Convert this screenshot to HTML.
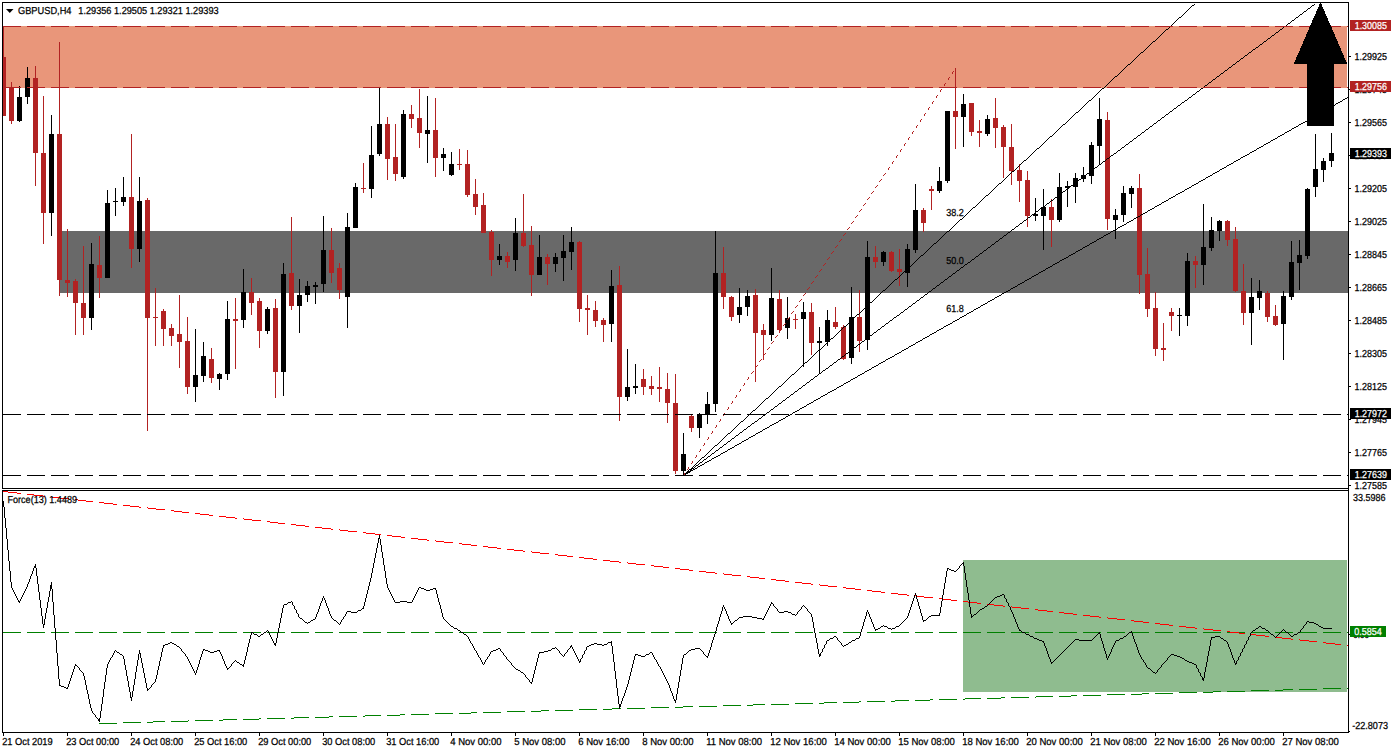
<!DOCTYPE html><html><head><meta charset="utf-8"><title>GBPUSD H4</title><style>html,body{margin:0;padding:0;background:#fff;}svg{display:block}text{font-family:"Liberation Sans",sans-serif;}</style></head><body>
<svg width="1393" height="753" viewBox="0 0 1393 753">
<rect x="0" y="0" width="1393" height="753" fill="#fff"/>
<g shape-rendering="crispEdges">
<rect x="3" y="26" width="1344" height="62" fill="#E9967A"/>
<rect x="60" y="231" width="1288" height="62" fill="#696969"/>
<rect x="963" y="560" width="384" height="132" fill="#8FBC8F"/>
<line x1="3" y1="632.5" x2="1348" y2="632.5" stroke="#008000" stroke-width="1" stroke-dasharray="18 6"/>
</g>
<clipPath id="cc"><rect x="3" y="3" width="1345" height="485"/></clipPath><g shape-rendering="crispEdges" clip-path="url(#cc)">
<rect x="3" y="27" width="1" height="89" fill="#B22222"/>
<rect x="1" y="57" width="5" height="59" fill="#B22222"/>
<rect x="11" y="82" width="1" height="42" fill="#B22222"/>
<rect x="9" y="87" width="5" height="34" fill="#B22222"/>
<rect x="19" y="86" width="1" height="36" fill="#000"/>
<rect x="17" y="97" width="5" height="24" fill="#000"/>
<rect x="27" y="67" width="1" height="37" fill="#000"/>
<rect x="25" y="78" width="5" height="19" fill="#000"/>
<rect x="35" y="66" width="1" height="120" fill="#B22222"/>
<rect x="33" y="78" width="5" height="75" fill="#B22222"/>
<rect x="43" y="96" width="1" height="148" fill="#B22222"/>
<rect x="41" y="153" width="5" height="60" fill="#B22222"/>
<rect x="51" y="115" width="1" height="121" fill="#000"/>
<rect x="49" y="134" width="5" height="79" fill="#000"/>
<rect x="59" y="42" width="1" height="254" fill="#B22222"/>
<rect x="57" y="134" width="5" height="146" fill="#B22222"/>
<rect x="67" y="229" width="1" height="68" fill="#B22222"/>
<rect x="65" y="280" width="5" height="3" fill="#B22222"/>
<rect x="75" y="279" width="1" height="56" fill="#B22222"/>
<rect x="73" y="281" width="5" height="22" fill="#B22222"/>
<rect x="83" y="246" width="1" height="89" fill="#B22222"/>
<rect x="81" y="303" width="5" height="15" fill="#B22222"/>
<rect x="91" y="243" width="1" height="87" fill="#000"/>
<rect x="89" y="264" width="5" height="54" fill="#000"/>
<rect x="99" y="236" width="1" height="62" fill="#B22222"/>
<rect x="97" y="265" width="5" height="13" fill="#B22222"/>
<rect x="107" y="190" width="1" height="88" fill="#000"/>
<rect x="105" y="203" width="5" height="75" fill="#000"/>
<rect x="115" y="188" width="1" height="28" fill="#000"/>
<rect x="113" y="201" width="5" height="1" fill="#000"/>
<rect x="123" y="177" width="1" height="29" fill="#000"/>
<rect x="121" y="197" width="5" height="5" fill="#000"/>
<rect x="131" y="134" width="1" height="134" fill="#B22222"/>
<rect x="129" y="197" width="5" height="52" fill="#B22222"/>
<rect x="139" y="177" width="1" height="85" fill="#000"/>
<rect x="137" y="201" width="5" height="48" fill="#000"/>
<rect x="147" y="198" width="1" height="233" fill="#B22222"/>
<rect x="145" y="200" width="5" height="118" fill="#B22222"/>
<rect x="155" y="288" width="1" height="58" fill="#B22222"/>
<rect x="153" y="317" width="5" height="1" fill="#B22222"/>
<rect x="163" y="309" width="1" height="37" fill="#B22222"/>
<rect x="161" y="311" width="5" height="18" fill="#B22222"/>
<rect x="171" y="324" width="1" height="22" fill="#B22222"/>
<rect x="169" y="328" width="5" height="8" fill="#B22222"/>
<rect x="179" y="295" width="1" height="73" fill="#B22222"/>
<rect x="177" y="334" width="5" height="8" fill="#B22222"/>
<rect x="187" y="317" width="1" height="77" fill="#B22222"/>
<rect x="185" y="341" width="5" height="46" fill="#B22222"/>
<rect x="195" y="329" width="1" height="73" fill="#000"/>
<rect x="193" y="375" width="5" height="12" fill="#000"/>
<rect x="203" y="342" width="1" height="40" fill="#000"/>
<rect x="201" y="356" width="5" height="20" fill="#000"/>
<rect x="211" y="348" width="1" height="35" fill="#B22222"/>
<rect x="209" y="359" width="5" height="19" fill="#B22222"/>
<rect x="219" y="373" width="1" height="17" fill="#000"/>
<rect x="217" y="374" width="5" height="5" fill="#000"/>
<rect x="227" y="301" width="1" height="79" fill="#000"/>
<rect x="225" y="319" width="5" height="55" fill="#000"/>
<rect x="235" y="298" width="1" height="71" fill="#B22222"/>
<rect x="233" y="319" width="5" height="2" fill="#B22222"/>
<rect x="243" y="269" width="1" height="59" fill="#000"/>
<rect x="241" y="292" width="5" height="28" fill="#000"/>
<rect x="251" y="278" width="1" height="37" fill="#B22222"/>
<rect x="249" y="292" width="5" height="11" fill="#B22222"/>
<rect x="259" y="298" width="1" height="50" fill="#B22222"/>
<rect x="257" y="301" width="5" height="30" fill="#B22222"/>
<rect x="267" y="307" width="1" height="27" fill="#000"/>
<rect x="265" y="309" width="5" height="22" fill="#000"/>
<rect x="275" y="299" width="1" height="99" fill="#B22222"/>
<rect x="273" y="308" width="5" height="64" fill="#B22222"/>
<rect x="283" y="263" width="1" height="133" fill="#000"/>
<rect x="281" y="274" width="5" height="98" fill="#000"/>
<rect x="291" y="217" width="1" height="93" fill="#B22222"/>
<rect x="289" y="273" width="5" height="33" fill="#B22222"/>
<rect x="299" y="279" width="1" height="54" fill="#000"/>
<rect x="297" y="295" width="5" height="11" fill="#000"/>
<rect x="307" y="281" width="1" height="21" fill="#000"/>
<rect x="305" y="286" width="5" height="9" fill="#000"/>
<rect x="315" y="282" width="1" height="22" fill="#000"/>
<rect x="313" y="285" width="5" height="2" fill="#000"/>
<rect x="323" y="216" width="1" height="76" fill="#000"/>
<rect x="321" y="250" width="5" height="34" fill="#000"/>
<rect x="331" y="228" width="1" height="55" fill="#B22222"/>
<rect x="329" y="250" width="5" height="23" fill="#B22222"/>
<rect x="339" y="263" width="1" height="36" fill="#B22222"/>
<rect x="337" y="268" width="5" height="22" fill="#B22222"/>
<rect x="347" y="213" width="1" height="115" fill="#000"/>
<rect x="345" y="227" width="5" height="70" fill="#000"/>
<rect x="355" y="183" width="1" height="45" fill="#000"/>
<rect x="353" y="187" width="5" height="41" fill="#000"/>
<rect x="363" y="163" width="1" height="30" fill="#B22222"/>
<rect x="361" y="188" width="5" height="1" fill="#B22222"/>
<rect x="371" y="126" width="1" height="72" fill="#000"/>
<rect x="369" y="155" width="5" height="34" fill="#000"/>
<rect x="379" y="88" width="1" height="68" fill="#000"/>
<rect x="377" y="124" width="5" height="30" fill="#000"/>
<rect x="387" y="117" width="1" height="63" fill="#B22222"/>
<rect x="385" y="124" width="5" height="35" fill="#B22222"/>
<rect x="395" y="124" width="1" height="57" fill="#B22222"/>
<rect x="393" y="157" width="5" height="17" fill="#B22222"/>
<rect x="403" y="110" width="1" height="69" fill="#000"/>
<rect x="401" y="114" width="5" height="63" fill="#000"/>
<rect x="411" y="105" width="1" height="23" fill="#B22222"/>
<rect x="409" y="114" width="5" height="5" fill="#B22222"/>
<rect x="419" y="89" width="1" height="59" fill="#B22222"/>
<rect x="417" y="118" width="5" height="15" fill="#B22222"/>
<rect x="427" y="96" width="1" height="67" fill="#000"/>
<rect x="425" y="130" width="5" height="4" fill="#000"/>
<rect x="435" y="98" width="1" height="79" fill="#B22222"/>
<rect x="433" y="130" width="5" height="28" fill="#B22222"/>
<rect x="443" y="148" width="1" height="23" fill="#000"/>
<rect x="441" y="154" width="5" height="4" fill="#000"/>
<rect x="451" y="152" width="1" height="24" fill="#000"/>
<rect x="449" y="164" width="5" height="11" fill="#000"/>
<rect x="459" y="149" width="1" height="21" fill="#B22222"/>
<rect x="457" y="164" width="5" height="1" fill="#B22222"/>
<rect x="467" y="150" width="1" height="47" fill="#B22222"/>
<rect x="465" y="164" width="5" height="31" fill="#B22222"/>
<rect x="475" y="179" width="1" height="36" fill="#B22222"/>
<rect x="473" y="194" width="5" height="13" fill="#B22222"/>
<rect x="483" y="193" width="1" height="40" fill="#B22222"/>
<rect x="481" y="205" width="5" height="28" fill="#B22222"/>
<rect x="491" y="230" width="1" height="46" fill="#B22222"/>
<rect x="489" y="232" width="5" height="28" fill="#B22222"/>
<rect x="499" y="244" width="1" height="21" fill="#000"/>
<rect x="497" y="256" width="5" height="4" fill="#000"/>
<rect x="507" y="252" width="1" height="16" fill="#B22222"/>
<rect x="505" y="256" width="5" height="6" fill="#B22222"/>
<rect x="515" y="218" width="1" height="53" fill="#000"/>
<rect x="513" y="233" width="5" height="27" fill="#000"/>
<rect x="523" y="194" width="1" height="53" fill="#B22222"/>
<rect x="521" y="233" width="5" height="13" fill="#B22222"/>
<rect x="531" y="226" width="1" height="70" fill="#B22222"/>
<rect x="529" y="245" width="5" height="30" fill="#B22222"/>
<rect x="539" y="235" width="1" height="40" fill="#000"/>
<rect x="537" y="257" width="5" height="18" fill="#000"/>
<rect x="547" y="254" width="1" height="31" fill="#B22222"/>
<rect x="545" y="257" width="5" height="7" fill="#B22222"/>
<rect x="555" y="253" width="1" height="19" fill="#000"/>
<rect x="553" y="257" width="5" height="7" fill="#000"/>
<rect x="563" y="235" width="1" height="46" fill="#000"/>
<rect x="561" y="251" width="5" height="7" fill="#000"/>
<rect x="571" y="227" width="1" height="43" fill="#000"/>
<rect x="569" y="242" width="5" height="10" fill="#000"/>
<rect x="579" y="241" width="1" height="81" fill="#B22222"/>
<rect x="577" y="242" width="5" height="67" fill="#B22222"/>
<rect x="587" y="295" width="1" height="40" fill="#B22222"/>
<rect x="585" y="308" width="5" height="2" fill="#B22222"/>
<rect x="595" y="301" width="1" height="26" fill="#B22222"/>
<rect x="593" y="310" width="5" height="11" fill="#B22222"/>
<rect x="603" y="318" width="1" height="24" fill="#B22222"/>
<rect x="601" y="320" width="5" height="5" fill="#B22222"/>
<rect x="611" y="270" width="1" height="72" fill="#000"/>
<rect x="609" y="286" width="5" height="38" fill="#000"/>
<rect x="619" y="266" width="1" height="155" fill="#B22222"/>
<rect x="617" y="285" width="5" height="112" fill="#B22222"/>
<rect x="627" y="349" width="1" height="52" fill="#000"/>
<rect x="625" y="387" width="5" height="10" fill="#000"/>
<rect x="635" y="364" width="1" height="30" fill="#000"/>
<rect x="633" y="386" width="5" height="2" fill="#000"/>
<rect x="643" y="369" width="1" height="26" fill="#B22222"/>
<rect x="641" y="379" width="5" height="8" fill="#B22222"/>
<rect x="651" y="376" width="1" height="19" fill="#B22222"/>
<rect x="649" y="386" width="5" height="3" fill="#B22222"/>
<rect x="659" y="367" width="1" height="35" fill="#B22222"/>
<rect x="657" y="387" width="5" height="2" fill="#B22222"/>
<rect x="667" y="373" width="1" height="50" fill="#B22222"/>
<rect x="665" y="389" width="5" height="14" fill="#B22222"/>
<rect x="675" y="374" width="1" height="100" fill="#B22222"/>
<rect x="673" y="403" width="5" height="68" fill="#B22222"/>
<rect x="683" y="433" width="1" height="42" fill="#000"/>
<rect x="681" y="454" width="5" height="17" fill="#000"/>
<rect x="691" y="414" width="1" height="18" fill="#B22222"/>
<rect x="689" y="416" width="5" height="12" fill="#B22222"/>
<rect x="699" y="413" width="1" height="25" fill="#000"/>
<rect x="697" y="414" width="5" height="14" fill="#000"/>
<rect x="707" y="392" width="1" height="32" fill="#000"/>
<rect x="705" y="404" width="5" height="10" fill="#000"/>
<rect x="715" y="231" width="1" height="181" fill="#000"/>
<rect x="713" y="273" width="5" height="131" fill="#000"/>
<rect x="723" y="247" width="1" height="62" fill="#B22222"/>
<rect x="721" y="273" width="5" height="24" fill="#B22222"/>
<rect x="731" y="296" width="1" height="25" fill="#B22222"/>
<rect x="729" y="297" width="5" height="20" fill="#B22222"/>
<rect x="739" y="288" width="1" height="35" fill="#000"/>
<rect x="737" y="307" width="5" height="8" fill="#000"/>
<rect x="747" y="290" width="1" height="26" fill="#000"/>
<rect x="745" y="296" width="5" height="11" fill="#000"/>
<rect x="755" y="289" width="1" height="93" fill="#B22222"/>
<rect x="753" y="295" width="5" height="38" fill="#B22222"/>
<rect x="763" y="324" width="1" height="36" fill="#B22222"/>
<rect x="761" y="330" width="5" height="5" fill="#B22222"/>
<rect x="771" y="268" width="1" height="73" fill="#000"/>
<rect x="769" y="298" width="5" height="37" fill="#000"/>
<rect x="779" y="290" width="1" height="43" fill="#B22222"/>
<rect x="777" y="299" width="5" height="31" fill="#B22222"/>
<rect x="787" y="297" width="1" height="42" fill="#000"/>
<rect x="785" y="318" width="5" height="10" fill="#000"/>
<rect x="795" y="314" width="1" height="15" fill="#B22222"/>
<rect x="793" y="319" width="5" height="1" fill="#B22222"/>
<rect x="803" y="302" width="1" height="65" fill="#000"/>
<rect x="801" y="312" width="5" height="7" fill="#000"/>
<rect x="811" y="303" width="1" height="52" fill="#B22222"/>
<rect x="809" y="312" width="5" height="31" fill="#B22222"/>
<rect x="819" y="327" width="1" height="47" fill="#000"/>
<rect x="817" y="341" width="5" height="2" fill="#000"/>
<rect x="827" y="310" width="1" height="36" fill="#000"/>
<rect x="825" y="320" width="5" height="22" fill="#000"/>
<rect x="835" y="307" width="1" height="22" fill="#B22222"/>
<rect x="833" y="322" width="5" height="5" fill="#B22222"/>
<rect x="843" y="325" width="1" height="35" fill="#B22222"/>
<rect x="841" y="327" width="5" height="32" fill="#B22222"/>
<rect x="851" y="287" width="1" height="77" fill="#000"/>
<rect x="849" y="317" width="5" height="41" fill="#000"/>
<rect x="859" y="290" width="1" height="62" fill="#B22222"/>
<rect x="857" y="317" width="5" height="24" fill="#B22222"/>
<rect x="867" y="241" width="1" height="109" fill="#000"/>
<rect x="865" y="257" width="5" height="83" fill="#000"/>
<rect x="875" y="246" width="1" height="22" fill="#B22222"/>
<rect x="873" y="257" width="5" height="5" fill="#B22222"/>
<rect x="883" y="251" width="1" height="15" fill="#000"/>
<rect x="881" y="252" width="5" height="10" fill="#000"/>
<rect x="891" y="251" width="1" height="21" fill="#B22222"/>
<rect x="889" y="252" width="5" height="19" fill="#B22222"/>
<rect x="899" y="249" width="1" height="37" fill="#B22222"/>
<rect x="897" y="269" width="5" height="3" fill="#B22222"/>
<rect x="907" y="244" width="1" height="43" fill="#000"/>
<rect x="905" y="249" width="5" height="24" fill="#000"/>
<rect x="915" y="184" width="1" height="69" fill="#000"/>
<rect x="913" y="210" width="5" height="40" fill="#000"/>
<rect x="923" y="208" width="1" height="24" fill="#B22222"/>
<rect x="921" y="210" width="5" height="13" fill="#B22222"/>
<rect x="931" y="186" width="1" height="24" fill="#B22222"/>
<rect x="929" y="189" width="5" height="2" fill="#B22222"/>
<rect x="939" y="167" width="1" height="26" fill="#000"/>
<rect x="937" y="181" width="5" height="10" fill="#000"/>
<rect x="947" y="111" width="1" height="72" fill="#000"/>
<rect x="945" y="111" width="5" height="70" fill="#000"/>
<rect x="955" y="68" width="1" height="81" fill="#B22222"/>
<rect x="953" y="111" width="5" height="6" fill="#B22222"/>
<rect x="963" y="94" width="1" height="53" fill="#000"/>
<rect x="961" y="104" width="5" height="13" fill="#000"/>
<rect x="971" y="103" width="1" height="33" fill="#B22222"/>
<rect x="969" y="103" width="5" height="29" fill="#B22222"/>
<rect x="979" y="120" width="1" height="27" fill="#B22222"/>
<rect x="977" y="131" width="5" height="2" fill="#B22222"/>
<rect x="987" y="115" width="1" height="21" fill="#000"/>
<rect x="985" y="119" width="5" height="15" fill="#000"/>
<rect x="995" y="98" width="1" height="50" fill="#B22222"/>
<rect x="993" y="118" width="5" height="10" fill="#B22222"/>
<rect x="1003" y="125" width="1" height="53" fill="#B22222"/>
<rect x="1001" y="127" width="5" height="20" fill="#B22222"/>
<rect x="1011" y="124" width="1" height="61" fill="#B22222"/>
<rect x="1009" y="147" width="5" height="24" fill="#B22222"/>
<rect x="1019" y="164" width="1" height="38" fill="#B22222"/>
<rect x="1017" y="170" width="5" height="11" fill="#B22222"/>
<rect x="1027" y="171" width="1" height="56" fill="#B22222"/>
<rect x="1025" y="180" width="5" height="36" fill="#B22222"/>
<rect x="1035" y="198" width="1" height="23" fill="#000"/>
<rect x="1033" y="214" width="5" height="2" fill="#000"/>
<rect x="1043" y="189" width="1" height="61" fill="#000"/>
<rect x="1041" y="207" width="5" height="9" fill="#000"/>
<rect x="1051" y="199" width="1" height="48" fill="#B22222"/>
<rect x="1049" y="207" width="5" height="13" fill="#B22222"/>
<rect x="1059" y="173" width="1" height="49" fill="#000"/>
<rect x="1057" y="187" width="5" height="33" fill="#000"/>
<rect x="1067" y="181" width="1" height="26" fill="#000"/>
<rect x="1065" y="186" width="5" height="2" fill="#000"/>
<rect x="1075" y="173" width="1" height="30" fill="#000"/>
<rect x="1073" y="178" width="5" height="9" fill="#000"/>
<rect x="1083" y="167" width="1" height="15" fill="#000"/>
<rect x="1081" y="175" width="5" height="4" fill="#000"/>
<rect x="1091" y="142" width="1" height="42" fill="#000"/>
<rect x="1089" y="145" width="5" height="31" fill="#000"/>
<rect x="1099" y="98" width="1" height="66" fill="#000"/>
<rect x="1097" y="119" width="5" height="27" fill="#000"/>
<rect x="1107" y="112" width="1" height="118" fill="#B22222"/>
<rect x="1105" y="120" width="5" height="99" fill="#B22222"/>
<rect x="1115" y="209" width="1" height="30" fill="#000"/>
<rect x="1113" y="215" width="5" height="5" fill="#000"/>
<rect x="1123" y="186" width="1" height="36" fill="#000"/>
<rect x="1121" y="193" width="5" height="22" fill="#000"/>
<rect x="1131" y="186" width="1" height="22" fill="#000"/>
<rect x="1129" y="188" width="5" height="6" fill="#000"/>
<rect x="1139" y="174" width="1" height="120" fill="#B22222"/>
<rect x="1137" y="188" width="5" height="87" fill="#B22222"/>
<rect x="1147" y="248" width="1" height="69" fill="#B22222"/>
<rect x="1145" y="274" width="5" height="35" fill="#B22222"/>
<rect x="1155" y="292" width="1" height="64" fill="#B22222"/>
<rect x="1153" y="308" width="5" height="41" fill="#B22222"/>
<rect x="1163" y="323" width="1" height="38" fill="#B22222"/>
<rect x="1161" y="348" width="5" height="2" fill="#B22222"/>
<rect x="1171" y="308" width="1" height="23" fill="#B22222"/>
<rect x="1169" y="312" width="5" height="4" fill="#B22222"/>
<rect x="1179" y="308" width="1" height="28" fill="#000"/>
<rect x="1177" y="315" width="5" height="1" fill="#000"/>
<rect x="1187" y="253" width="1" height="73" fill="#000"/>
<rect x="1185" y="261" width="5" height="55" fill="#000"/>
<rect x="1195" y="256" width="1" height="32" fill="#B22222"/>
<rect x="1193" y="261" width="5" height="4" fill="#B22222"/>
<rect x="1203" y="204" width="1" height="81" fill="#000"/>
<rect x="1201" y="247" width="5" height="18" fill="#000"/>
<rect x="1211" y="217" width="1" height="34" fill="#000"/>
<rect x="1209" y="230" width="5" height="18" fill="#000"/>
<rect x="1219" y="220" width="1" height="21" fill="#000"/>
<rect x="1217" y="221" width="5" height="10" fill="#000"/>
<rect x="1227" y="220" width="1" height="26" fill="#B22222"/>
<rect x="1225" y="221" width="5" height="19" fill="#B22222"/>
<rect x="1235" y="227" width="1" height="65" fill="#B22222"/>
<rect x="1233" y="239" width="5" height="52" fill="#B22222"/>
<rect x="1243" y="264" width="1" height="61" fill="#B22222"/>
<rect x="1241" y="291" width="5" height="22" fill="#B22222"/>
<rect x="1251" y="278" width="1" height="67" fill="#000"/>
<rect x="1249" y="297" width="5" height="16" fill="#000"/>
<rect x="1259" y="280" width="1" height="30" fill="#000"/>
<rect x="1257" y="291" width="5" height="7" fill="#000"/>
<rect x="1267" y="291" width="1" height="31" fill="#B22222"/>
<rect x="1265" y="293" width="5" height="24" fill="#B22222"/>
<rect x="1275" y="305" width="1" height="21" fill="#B22222"/>
<rect x="1273" y="316" width="5" height="9" fill="#B22222"/>
<rect x="1283" y="291" width="1" height="69" fill="#000"/>
<rect x="1281" y="296" width="5" height="28" fill="#000"/>
<rect x="1291" y="241" width="1" height="59" fill="#000"/>
<rect x="1289" y="262" width="5" height="35" fill="#000"/>
<rect x="1299" y="240" width="1" height="50" fill="#000"/>
<rect x="1297" y="255" width="5" height="8" fill="#000"/>
<rect x="1307" y="188" width="1" height="71" fill="#000"/>
<rect x="1305" y="189" width="5" height="67" fill="#000"/>
<rect x="1315" y="134" width="1" height="63" fill="#000"/>
<rect x="1313" y="169" width="5" height="18" fill="#000"/>
<rect x="1323" y="158" width="1" height="24" fill="#000"/>
<rect x="1321" y="161" width="5" height="9" fill="#000"/>
<rect x="1331" y="133" width="1" height="34" fill="#000"/>
<rect x="1329" y="153" width="5" height="8" fill="#000"/>
</g>
<path d="M1194 4h1v1h-1zM1192 5h2v1h-2zM1191 6h1v1h-1zM1190 7h1v1h-1zM1189 8h1v1h-1zM1188 9h1v1h-1zM1187 10h1v1h-1zM1186 11h1v1h-1zM1185 12h1v1h-1zM1184 13h1v1h-1zM1183 14h1v1h-1zM1182 15h1v1h-1zM1181 16h1v1h-1zM1179 17h2v1h-2zM1178 18h1v1h-1zM1177 19h1v1h-1zM1176 20h1v1h-1zM1175 21h1v1h-1zM1174 22h1v1h-1zM1173 23h1v1h-1zM1172 24h1v1h-1zM1171 25h1v1h-1zM1170 26h1v1h-1zM1169 27h1v1h-1zM1168 28h1v1h-1zM1166 29h2v1h-2zM1165 30h1v1h-1zM1164 31h1v1h-1zM1163 32h1v1h-1zM1162 33h1v1h-1zM1161 34h1v1h-1zM1160 35h1v1h-1zM1159 36h1v1h-1zM1158 37h1v1h-1zM1157 38h1v1h-1zM1156 39h1v1h-1zM1155 40h1v1h-1zM1153 41h2v1h-2zM1152 42h1v1h-1zM1151 43h1v1h-1zM1150 44h1v1h-1zM1149 45h1v1h-1zM1148 46h1v1h-1zM1147 47h1v1h-1zM1146 48h1v1h-1zM1145 49h1v1h-1zM1144 50h1v1h-1zM1143 51h1v1h-1zM1141 52h2v1h-2zM1140 53h1v1h-1zM1139 54h1v1h-1zM1138 55h1v1h-1zM1137 56h1v1h-1zM1136 57h1v1h-1zM1135 58h1v1h-1zM1134 59h1v1h-1zM1133 60h1v1h-1zM1132 61h1v1h-1zM1131 62h1v1h-1zM1130 63h1v1h-1zM1128 64h2v1h-2zM1127 65h1v1h-1zM1126 66h1v1h-1zM1125 67h1v1h-1zM1124 68h1v1h-1zM1123 69h1v1h-1zM1122 70h1v1h-1zM1121 71h1v1h-1zM1120 72h1v1h-1zM1119 73h1v1h-1zM1118 74h1v1h-1zM1117 75h1v1h-1zM1115 76h2v1h-2zM1114 77h1v1h-1zM1113 78h1v1h-1zM1112 79h1v1h-1zM1111 80h1v1h-1zM1110 81h1v1h-1zM1109 82h1v1h-1zM1108 83h1v1h-1zM1107 84h1v1h-1zM1106 85h1v1h-1zM1105 86h1v1h-1zM1104 87h1v1h-1zM1102 88h2v1h-2zM1101 89h1v1h-1zM1100 90h1v1h-1zM1099 91h1v1h-1zM1098 92h1v1h-1zM1097 93h1v1h-1zM1096 94h1v1h-1zM1095 95h1v1h-1zM1094 96h1v1h-1zM1093 97h1v1h-1zM1092 98h1v1h-1zM1091 99h1v1h-1zM1089 100h2v1h-2zM1088 101h1v1h-1zM1087 102h1v1h-1zM1086 103h1v1h-1zM1085 104h1v1h-1zM1084 105h1v1h-1zM1083 106h1v1h-1zM1082 107h1v1h-1zM1081 108h1v1h-1zM1080 109h1v1h-1zM1079 110h1v1h-1zM1078 111h1v1h-1zM1076 112h2v1h-2zM1075 113h1v1h-1zM1074 114h1v1h-1zM1073 115h1v1h-1zM1072 116h1v1h-1zM1071 117h1v1h-1zM1070 118h1v1h-1zM1069 119h1v1h-1zM1068 120h1v1h-1zM1067 121h1v1h-1zM1066 122h1v1h-1zM1065 123h1v1h-1zM1063 124h2v1h-2zM1062 125h1v1h-1zM1061 126h1v1h-1zM1060 127h1v1h-1zM1059 128h1v1h-1zM1058 129h1v1h-1zM1057 130h1v1h-1zM1056 131h1v1h-1zM1055 132h1v1h-1zM1054 133h1v1h-1zM1053 134h1v1h-1zM1052 135h1v1h-1zM1050 136h2v1h-2zM1049 137h1v1h-1zM1048 138h1v1h-1zM1047 139h1v1h-1zM1046 140h1v1h-1zM1045 141h1v1h-1zM1044 142h1v1h-1zM1043 143h1v1h-1zM1042 144h1v1h-1zM1041 145h1v1h-1zM1040 146h1v1h-1zM1039 147h1v1h-1zM1037 148h2v1h-2zM1036 149h1v1h-1zM1035 150h1v1h-1zM1034 151h1v1h-1zM1033 152h1v1h-1zM1032 153h1v1h-1zM1031 154h1v1h-1zM1030 155h1v1h-1zM1029 156h1v1h-1zM1028 157h1v1h-1zM1027 158h1v1h-1zM1026 159h1v1h-1zM1024 160h2v1h-2zM1023 161h1v1h-1zM1022 162h1v1h-1zM1021 163h1v1h-1zM1020 164h1v1h-1zM1019 165h1v1h-1zM1018 166h1v1h-1zM1017 167h1v1h-1zM1016 168h1v1h-1zM1015 169h1v1h-1zM1014 170h1v1h-1zM1012 171h2v1h-2zM1011 172h1v1h-1zM1010 173h1v1h-1zM1009 174h1v1h-1zM1008 175h1v1h-1zM1007 176h1v1h-1zM1006 177h1v1h-1zM1005 178h1v1h-1zM1004 179h1v1h-1zM1003 180h1v1h-1zM1002 181h1v1h-1zM1001 182h1v1h-1zM999 183h2v1h-2zM998 184h1v1h-1zM997 185h1v1h-1zM996 186h1v1h-1zM995 187h1v1h-1zM994 188h1v1h-1zM993 189h1v1h-1zM992 190h1v1h-1zM991 191h1v1h-1zM990 192h1v1h-1zM989 193h1v1h-1zM988 194h1v1h-1zM986 195h2v1h-2zM985 196h1v1h-1zM984 197h1v1h-1zM983 198h1v1h-1zM982 199h1v1h-1zM981 200h1v1h-1zM980 201h1v1h-1zM979 202h1v1h-1zM978 203h1v1h-1zM977 204h1v1h-1zM976 205h1v1h-1zM975 206h1v1h-1zM973 207h2v1h-2zM972 208h1v1h-1zM971 209h1v1h-1zM970 210h1v1h-1zM969 211h1v1h-1zM968 212h1v1h-1zM967 213h1v1h-1zM966 214h1v1h-1zM965 215h1v1h-1zM964 216h1v1h-1zM963 217h1v1h-1zM962 218h1v1h-1zM960 219h2v1h-2zM959 220h1v1h-1zM958 221h1v1h-1zM957 222h1v1h-1zM956 223h1v1h-1zM955 224h1v1h-1zM954 225h1v1h-1zM953 226h1v1h-1zM952 227h1v1h-1zM951 228h1v1h-1zM950 229h1v1h-1zM949 230h1v1h-1zM947 231h2v1h-2zM946 232h1v1h-1zM945 233h1v1h-1zM944 234h1v1h-1zM943 235h1v1h-1zM942 236h1v1h-1zM941 237h1v1h-1zM940 238h1v1h-1zM939 239h1v1h-1zM938 240h1v1h-1zM937 241h1v1h-1zM936 242h1v1h-1zM934 243h2v1h-2zM933 244h1v1h-1zM932 245h1v1h-1zM931 246h1v1h-1zM930 247h1v1h-1zM929 248h1v1h-1zM928 249h1v1h-1zM927 250h1v1h-1zM926 251h1v1h-1zM925 252h1v1h-1zM924 253h1v1h-1zM923 254h1v1h-1zM921 255h2v1h-2zM920 256h1v1h-1zM919 257h1v1h-1zM918 258h1v1h-1zM917 259h1v1h-1zM916 260h1v1h-1zM915 261h1v1h-1zM914 262h1v1h-1zM913 263h1v1h-1zM912 264h1v1h-1zM911 265h1v1h-1zM910 266h1v1h-1zM908 267h2v1h-2zM907 268h1v1h-1zM906 269h1v1h-1zM905 270h1v1h-1zM904 271h1v1h-1zM903 272h1v1h-1zM902 273h1v1h-1zM901 274h1v1h-1zM900 275h1v1h-1zM899 276h1v1h-1zM898 277h1v1h-1zM897 278h1v1h-1zM895 279h2v1h-2zM894 280h1v1h-1zM893 281h1v1h-1zM892 282h1v1h-1zM891 283h1v1h-1zM890 284h1v1h-1zM889 285h1v1h-1zM888 286h1v1h-1zM887 287h1v1h-1zM886 288h1v1h-1zM885 289h1v1h-1zM883 290h2v1h-2zM882 291h1v1h-1zM881 292h1v1h-1zM880 293h1v1h-1zM879 294h1v1h-1zM878 295h1v1h-1zM877 296h1v1h-1zM876 297h1v1h-1zM875 298h1v1h-1zM874 299h1v1h-1zM873 300h1v1h-1zM872 301h1v1h-1zM870 302h2v1h-2zM869 303h1v1h-1zM868 304h1v1h-1zM867 305h1v1h-1zM866 306h1v1h-1zM865 307h1v1h-1zM864 308h1v1h-1zM863 309h1v1h-1zM862 310h1v1h-1zM861 311h1v1h-1zM860 312h1v1h-1zM859 313h1v1h-1zM857 314h2v1h-2zM856 315h1v1h-1zM855 316h1v1h-1zM854 317h1v1h-1zM853 318h1v1h-1zM852 319h1v1h-1zM851 320h1v1h-1zM850 321h1v1h-1zM849 322h1v1h-1zM848 323h1v1h-1zM847 324h1v1h-1zM846 325h1v1h-1zM844 326h2v1h-2zM843 327h1v1h-1zM842 328h1v1h-1zM841 329h1v1h-1zM840 330h1v1h-1zM839 331h1v1h-1zM838 332h1v1h-1zM837 333h1v1h-1zM836 334h1v1h-1zM835 335h1v1h-1zM834 336h1v1h-1zM833 337h1v1h-1zM831 338h2v1h-2zM830 339h1v1h-1zM829 340h1v1h-1zM828 341h1v1h-1zM827 342h1v1h-1zM826 343h1v1h-1zM825 344h1v1h-1zM824 345h1v1h-1zM823 346h1v1h-1zM822 347h1v1h-1zM821 348h1v1h-1zM820 349h1v1h-1zM818 350h2v1h-2zM817 351h1v1h-1zM816 352h1v1h-1zM815 353h1v1h-1zM814 354h1v1h-1zM813 355h1v1h-1zM812 356h1v1h-1zM811 357h1v1h-1zM810 358h1v1h-1zM809 359h1v1h-1zM808 360h1v1h-1zM807 361h1v1h-1zM805 362h2v1h-2zM804 363h1v1h-1zM803 364h1v1h-1zM802 365h1v1h-1zM801 366h1v1h-1zM800 367h1v1h-1zM799 368h1v1h-1zM798 369h1v1h-1zM797 370h1v1h-1zM796 371h1v1h-1zM795 372h1v1h-1zM794 373h1v1h-1zM792 374h2v1h-2zM791 375h1v1h-1zM790 376h1v1h-1zM789 377h1v1h-1zM788 378h1v1h-1zM787 379h1v1h-1zM786 380h1v1h-1zM785 381h1v1h-1zM784 382h1v1h-1zM783 383h1v1h-1zM782 384h1v1h-1zM781 385h1v1h-1zM779 386h2v1h-2zM778 387h1v1h-1zM777 388h1v1h-1zM776 389h1v1h-1zM775 390h1v1h-1zM774 391h1v1h-1zM773 392h1v1h-1zM772 393h1v1h-1zM771 394h1v1h-1zM770 395h1v1h-1zM769 396h1v1h-1zM768 397h1v1h-1zM766 398h2v1h-2zM765 399h1v1h-1zM764 400h1v1h-1zM763 401h1v1h-1zM762 402h1v1h-1zM761 403h1v1h-1zM760 404h1v1h-1zM759 405h1v1h-1zM758 406h1v1h-1zM757 407h1v1h-1zM756 408h1v1h-1zM755 409h1v1h-1zM753 410h2v1h-2zM752 411h1v1h-1zM751 412h1v1h-1zM750 413h1v1h-1zM749 414h1v1h-1zM748 415h1v1h-1zM747 416h1v1h-1zM746 417h1v1h-1zM745 418h1v1h-1zM744 419h1v1h-1zM743 420h1v1h-1zM741 421h2v1h-2zM740 422h1v1h-1zM739 423h1v1h-1zM738 424h1v1h-1zM737 425h1v1h-1zM736 426h1v1h-1zM735 427h1v1h-1zM734 428h1v1h-1zM733 429h1v1h-1zM732 430h1v1h-1zM731 431h1v1h-1zM730 432h1v1h-1zM728 433h2v1h-2zM727 434h1v1h-1zM726 435h1v1h-1zM725 436h1v1h-1zM724 437h1v1h-1zM723 438h1v1h-1zM722 439h1v1h-1zM721 440h1v1h-1zM720 441h1v1h-1zM719 442h1v1h-1zM718 443h1v1h-1zM717 444h1v1h-1zM715 445h2v1h-2zM714 446h1v1h-1zM713 447h1v1h-1zM712 448h1v1h-1zM711 449h1v1h-1zM710 450h1v1h-1zM709 451h1v1h-1zM708 452h1v1h-1zM707 453h1v1h-1zM706 454h1v1h-1zM705 455h1v1h-1zM704 456h1v1h-1zM702 457h2v1h-2zM701 458h1v1h-1zM700 459h1v1h-1zM699 460h1v1h-1zM698 461h1v1h-1zM697 462h1v1h-1zM696 463h1v1h-1zM695 464h1v1h-1zM694 465h1v1h-1zM693 466h1v1h-1zM692 467h1v1h-1zM691 468h1v1h-1zM689 469h2v1h-2zM688 470h1v1h-1zM687 471h1v1h-1zM686 472h1v1h-1zM685 473h1v1h-1zM684 474h1v1h-1zM683 475h1v1h-1z" fill="#000" shape-rendering="crispEdges"/>
<path d="M1314 4h1v1h-1zM1312 5h2v1h-2zM1311 6h1v1h-1zM1310 7h1v1h-1zM1308 8h2v1h-2zM1307 9h1v1h-1zM1306 10h1v1h-1zM1304 11h2v1h-2zM1303 12h1v1h-1zM1302 13h1v1h-1zM1300 14h2v1h-2zM1299 15h1v1h-1zM1298 16h1v1h-1zM1296 17h2v1h-2zM1295 18h1v1h-1zM1294 19h1v1h-1zM1292 20h2v1h-2zM1291 21h1v1h-1zM1290 22h1v1h-1zM1288 23h2v1h-2zM1287 24h1v1h-1zM1286 25h1v1h-1zM1284 26h2v1h-2zM1283 27h1v1h-1zM1282 28h1v1h-1zM1280 29h2v1h-2zM1279 30h1v1h-1zM1278 31h1v1h-1zM1276 32h2v1h-2zM1275 33h1v1h-1zM1274 34h1v1h-1zM1272 35h2v1h-2zM1271 36h1v1h-1zM1270 37h1v1h-1zM1268 38h2v1h-2zM1267 39h1v1h-1zM1266 40h1v1h-1zM1264 41h2v1h-2zM1263 42h1v1h-1zM1262 43h1v1h-1zM1260 44h2v1h-2zM1259 45h1v1h-1zM1258 46h1v1h-1zM1256 47h2v1h-2zM1255 48h1v1h-1zM1253 49h2v1h-2zM1252 50h1v1h-1zM1251 51h1v1h-1zM1249 52h2v1h-2zM1248 53h1v1h-1zM1247 54h1v1h-1zM1245 55h2v1h-2zM1244 56h1v1h-1zM1243 57h1v1h-1zM1241 58h2v1h-2zM1240 59h1v1h-1zM1239 60h1v1h-1zM1237 61h2v1h-2zM1236 62h1v1h-1zM1235 63h1v1h-1zM1233 64h2v1h-2zM1232 65h1v1h-1zM1231 66h1v1h-1zM1229 67h2v1h-2zM1228 68h1v1h-1zM1227 69h1v1h-1zM1225 70h2v1h-2zM1224 71h1v1h-1zM1223 72h1v1h-1zM1221 73h2v1h-2zM1220 74h1v1h-1zM1219 75h1v1h-1zM1217 76h2v1h-2zM1216 77h1v1h-1zM1215 78h1v1h-1zM1213 79h2v1h-2zM1212 80h1v1h-1zM1211 81h1v1h-1zM1209 82h2v1h-2zM1208 83h1v1h-1zM1207 84h1v1h-1zM1205 85h2v1h-2zM1204 86h1v1h-1zM1203 87h1v1h-1zM1201 88h2v1h-2zM1200 89h1v1h-1zM1199 90h1v1h-1zM1197 91h2v1h-2zM1196 92h1v1h-1zM1195 93h1v1h-1zM1193 94h2v1h-2zM1192 95h1v1h-1zM1191 96h1v1h-1zM1189 97h2v1h-2zM1188 98h1v1h-1zM1187 99h1v1h-1zM1185 100h2v1h-2zM1184 101h1v1h-1zM1182 102h2v1h-2zM1181 103h1v1h-1zM1180 104h1v1h-1zM1178 105h2v1h-2zM1177 106h1v1h-1zM1176 107h1v1h-1zM1174 108h2v1h-2zM1173 109h1v1h-1zM1172 110h1v1h-1zM1170 111h2v1h-2zM1169 112h1v1h-1zM1168 113h1v1h-1zM1166 114h2v1h-2zM1165 115h1v1h-1zM1164 116h1v1h-1zM1162 117h2v1h-2zM1161 118h1v1h-1zM1160 119h1v1h-1zM1158 120h2v1h-2zM1157 121h1v1h-1zM1156 122h1v1h-1zM1154 123h2v1h-2zM1153 124h1v1h-1zM1152 125h1v1h-1zM1150 126h2v1h-2zM1149 127h1v1h-1zM1148 128h1v1h-1zM1146 129h2v1h-2zM1145 130h1v1h-1zM1144 131h1v1h-1zM1142 132h2v1h-2zM1141 133h1v1h-1zM1140 134h1v1h-1zM1138 135h2v1h-2zM1137 136h1v1h-1zM1136 137h1v1h-1zM1134 138h2v1h-2zM1133 139h1v1h-1zM1132 140h1v1h-1zM1130 141h2v1h-2zM1129 142h1v1h-1zM1128 143h1v1h-1zM1126 144h2v1h-2zM1125 145h1v1h-1zM1124 146h1v1h-1zM1122 147h2v1h-2zM1121 148h1v1h-1zM1120 149h1v1h-1zM1118 150h2v1h-2zM1117 151h1v1h-1zM1116 152h1v1h-1zM1114 153h2v1h-2zM1113 154h1v1h-1zM1111 155h2v1h-2zM1110 156h1v1h-1zM1109 157h1v1h-1zM1107 158h2v1h-2zM1106 159h1v1h-1zM1105 160h1v1h-1zM1103 161h2v1h-2zM1102 162h1v1h-1zM1101 163h1v1h-1zM1099 164h2v1h-2zM1098 165h1v1h-1zM1097 166h1v1h-1zM1095 167h2v1h-2zM1094 168h1v1h-1zM1093 169h1v1h-1zM1091 170h2v1h-2zM1090 171h1v1h-1zM1089 172h1v1h-1zM1087 173h2v1h-2zM1086 174h1v1h-1zM1085 175h1v1h-1zM1083 176h2v1h-2zM1082 177h1v1h-1zM1081 178h1v1h-1zM1079 179h2v1h-2zM1078 180h1v1h-1zM1077 181h1v1h-1zM1075 182h2v1h-2zM1074 183h1v1h-1zM1073 184h1v1h-1zM1071 185h2v1h-2zM1070 186h1v1h-1zM1069 187h1v1h-1zM1067 188h2v1h-2zM1066 189h1v1h-1zM1065 190h1v1h-1zM1063 191h2v1h-2zM1062 192h1v1h-1zM1061 193h1v1h-1zM1059 194h2v1h-2zM1058 195h1v1h-1zM1057 196h1v1h-1zM1055 197h2v1h-2zM1054 198h1v1h-1zM1053 199h1v1h-1zM1051 200h2v1h-2zM1050 201h1v1h-1zM1049 202h1v1h-1zM1047 203h2v1h-2zM1046 204h1v1h-1zM1045 205h1v1h-1zM1043 206h2v1h-2zM1042 207h1v1h-1zM1040 208h2v1h-2zM1039 209h1v1h-1zM1038 210h1v1h-1zM1036 211h2v1h-2zM1035 212h1v1h-1zM1034 213h1v1h-1zM1032 214h2v1h-2zM1031 215h1v1h-1zM1030 216h1v1h-1zM1028 217h2v1h-2zM1027 218h1v1h-1zM1026 219h1v1h-1zM1024 220h2v1h-2zM1023 221h1v1h-1zM1022 222h1v1h-1zM1020 223h2v1h-2zM1019 224h1v1h-1zM1018 225h1v1h-1zM1016 226h2v1h-2zM1015 227h1v1h-1zM1014 228h1v1h-1zM1012 229h2v1h-2zM1011 230h1v1h-1zM1010 231h1v1h-1zM1008 232h2v1h-2zM1007 233h1v1h-1zM1006 234h1v1h-1zM1004 235h2v1h-2zM1003 236h1v1h-1zM1002 237h1v1h-1zM1000 238h2v1h-2zM999 239h1v1h-1zM998 240h1v1h-1zM996 241h2v1h-2zM995 242h1v1h-1zM994 243h1v1h-1zM992 244h2v1h-2zM991 245h1v1h-1zM990 246h1v1h-1zM988 247h2v1h-2zM987 248h1v1h-1zM986 249h1v1h-1zM984 250h2v1h-2zM983 251h1v1h-1zM982 252h1v1h-1zM980 253h2v1h-2zM979 254h1v1h-1zM978 255h1v1h-1zM976 256h2v1h-2zM975 257h1v1h-1zM974 258h1v1h-1zM972 259h2v1h-2zM971 260h1v1h-1zM970 261h1v1h-1zM968 262h2v1h-2zM967 263h1v1h-1zM965 264h2v1h-2zM964 265h1v1h-1zM963 266h1v1h-1zM961 267h2v1h-2zM960 268h1v1h-1zM959 269h1v1h-1zM957 270h2v1h-2zM956 271h1v1h-1zM955 272h1v1h-1zM953 273h2v1h-2zM952 274h1v1h-1zM951 275h1v1h-1zM949 276h2v1h-2zM948 277h1v1h-1zM947 278h1v1h-1zM945 279h2v1h-2zM944 280h1v1h-1zM943 281h1v1h-1zM941 282h2v1h-2zM940 283h1v1h-1zM939 284h1v1h-1zM937 285h2v1h-2zM936 286h1v1h-1zM935 287h1v1h-1zM933 288h2v1h-2zM932 289h1v1h-1zM931 290h1v1h-1zM929 291h2v1h-2zM928 292h1v1h-1zM927 293h1v1h-1zM925 294h2v1h-2zM924 295h1v1h-1zM923 296h1v1h-1zM921 297h2v1h-2zM920 298h1v1h-1zM919 299h1v1h-1zM917 300h2v1h-2zM916 301h1v1h-1zM915 302h1v1h-1zM913 303h2v1h-2zM912 304h1v1h-1zM911 305h1v1h-1zM909 306h2v1h-2zM908 307h1v1h-1zM907 308h1v1h-1zM905 309h2v1h-2zM904 310h1v1h-1zM903 311h1v1h-1zM901 312h2v1h-2zM900 313h1v1h-1zM899 314h1v1h-1zM897 315h2v1h-2zM896 316h1v1h-1zM894 317h2v1h-2zM893 318h1v1h-1zM892 319h1v1h-1zM890 320h2v1h-2zM889 321h1v1h-1zM888 322h1v1h-1zM886 323h2v1h-2zM885 324h1v1h-1zM884 325h1v1h-1zM882 326h2v1h-2zM881 327h1v1h-1zM880 328h1v1h-1zM878 329h2v1h-2zM877 330h1v1h-1zM876 331h1v1h-1zM874 332h2v1h-2zM873 333h1v1h-1zM872 334h1v1h-1zM870 335h2v1h-2zM869 336h1v1h-1zM868 337h1v1h-1zM866 338h2v1h-2zM865 339h1v1h-1zM864 340h1v1h-1zM862 341h2v1h-2zM861 342h1v1h-1zM860 343h1v1h-1zM858 344h2v1h-2zM857 345h1v1h-1zM856 346h1v1h-1zM854 347h2v1h-2zM853 348h1v1h-1zM852 349h1v1h-1zM850 350h2v1h-2zM849 351h1v1h-1zM848 352h1v1h-1zM846 353h2v1h-2zM845 354h1v1h-1zM844 355h1v1h-1zM842 356h2v1h-2zM841 357h1v1h-1zM840 358h1v1h-1zM838 359h2v1h-2zM837 360h1v1h-1zM836 361h1v1h-1zM834 362h2v1h-2zM833 363h1v1h-1zM832 364h1v1h-1zM830 365h2v1h-2zM829 366h1v1h-1zM828 367h1v1h-1zM826 368h2v1h-2zM825 369h1v1h-1zM823 370h2v1h-2zM822 371h1v1h-1zM821 372h1v1h-1zM819 373h2v1h-2zM818 374h1v1h-1zM817 375h1v1h-1zM815 376h2v1h-2zM814 377h1v1h-1zM813 378h1v1h-1zM811 379h2v1h-2zM810 380h1v1h-1zM809 381h1v1h-1zM807 382h2v1h-2zM806 383h1v1h-1zM805 384h1v1h-1zM803 385h2v1h-2zM802 386h1v1h-1zM801 387h1v1h-1zM799 388h2v1h-2zM798 389h1v1h-1zM797 390h1v1h-1zM795 391h2v1h-2zM794 392h1v1h-1zM793 393h1v1h-1zM791 394h2v1h-2zM790 395h1v1h-1zM789 396h1v1h-1zM787 397h2v1h-2zM786 398h1v1h-1zM785 399h1v1h-1zM783 400h2v1h-2zM782 401h1v1h-1zM781 402h1v1h-1zM779 403h2v1h-2zM778 404h1v1h-1zM777 405h1v1h-1zM775 406h2v1h-2zM774 407h1v1h-1zM773 408h1v1h-1zM771 409h2v1h-2zM770 410h1v1h-1zM769 411h1v1h-1zM767 412h2v1h-2zM766 413h1v1h-1zM765 414h1v1h-1zM763 415h2v1h-2zM762 416h1v1h-1zM761 417h1v1h-1zM759 418h2v1h-2zM758 419h1v1h-1zM757 420h1v1h-1zM755 421h2v1h-2zM754 422h1v1h-1zM752 423h2v1h-2zM751 424h1v1h-1zM750 425h1v1h-1zM748 426h2v1h-2zM747 427h1v1h-1zM746 428h1v1h-1zM744 429h2v1h-2zM743 430h1v1h-1zM742 431h1v1h-1zM740 432h2v1h-2zM739 433h1v1h-1zM738 434h1v1h-1zM736 435h2v1h-2zM735 436h1v1h-1zM734 437h1v1h-1zM732 438h2v1h-2zM731 439h1v1h-1zM730 440h1v1h-1zM728 441h2v1h-2zM727 442h1v1h-1zM726 443h1v1h-1zM724 444h2v1h-2zM723 445h1v1h-1zM722 446h1v1h-1zM720 447h2v1h-2zM719 448h1v1h-1zM718 449h1v1h-1zM716 450h2v1h-2zM715 451h1v1h-1zM714 452h1v1h-1zM712 453h2v1h-2zM711 454h1v1h-1zM710 455h1v1h-1zM708 456h2v1h-2zM707 457h1v1h-1zM706 458h1v1h-1zM704 459h2v1h-2zM703 460h1v1h-1zM702 461h1v1h-1zM700 462h2v1h-2zM699 463h1v1h-1zM698 464h1v1h-1zM696 465h2v1h-2zM695 466h1v1h-1zM694 467h1v1h-1zM692 468h2v1h-2zM691 469h1v1h-1zM690 470h1v1h-1zM688 471h2v1h-2zM687 472h1v1h-1zM686 473h1v1h-1zM684 474h2v1h-2zM683 475h1v1h-1z" fill="#000" shape-rendering="crispEdges"/>
<path d="M1347 97h1v1h-1zM1345 98h2v1h-2zM1343 99h2v1h-2zM1342 100h1v1h-1zM1340 101h2v1h-2zM1338 102h2v1h-2zM1336 103h2v1h-2zM1335 104h1v1h-1zM1333 105h2v1h-2zM1331 106h2v1h-2zM1329 107h2v1h-2zM1328 108h1v1h-1zM1326 109h2v1h-2zM1324 110h2v1h-2zM1322 111h2v1h-2zM1321 112h1v1h-1zM1319 113h2v1h-2zM1317 114h2v1h-2zM1315 115h2v1h-2zM1314 116h1v1h-1zM1312 117h2v1h-2zM1310 118h2v1h-2zM1308 119h2v1h-2zM1307 120h1v1h-1zM1305 121h2v1h-2zM1303 122h2v1h-2zM1301 123h2v1h-2zM1299 124h2v1h-2zM1298 125h1v1h-1zM1296 126h2v1h-2zM1294 127h2v1h-2zM1292 128h2v1h-2zM1291 129h1v1h-1zM1289 130h2v1h-2zM1287 131h2v1h-2zM1285 132h2v1h-2zM1284 133h1v1h-1zM1282 134h2v1h-2zM1280 135h2v1h-2zM1278 136h2v1h-2zM1277 137h1v1h-1zM1275 138h2v1h-2zM1273 139h2v1h-2zM1271 140h2v1h-2zM1270 141h1v1h-1zM1268 142h2v1h-2zM1266 143h2v1h-2zM1264 144h2v1h-2zM1263 145h1v1h-1zM1261 146h2v1h-2zM1259 147h2v1h-2zM1257 148h2v1h-2zM1256 149h1v1h-1zM1254 150h2v1h-2zM1252 151h2v1h-2zM1250 152h2v1h-2zM1249 153h1v1h-1zM1247 154h2v1h-2zM1245 155h2v1h-2zM1243 156h2v1h-2zM1241 157h2v1h-2zM1240 158h1v1h-1zM1238 159h2v1h-2zM1236 160h2v1h-2zM1234 161h2v1h-2zM1233 162h1v1h-1zM1231 163h2v1h-2zM1229 164h2v1h-2zM1227 165h2v1h-2zM1226 166h1v1h-1zM1224 167h2v1h-2zM1222 168h2v1h-2zM1220 169h2v1h-2zM1219 170h1v1h-1zM1217 171h2v1h-2zM1215 172h2v1h-2zM1213 173h2v1h-2zM1212 174h1v1h-1zM1210 175h2v1h-2zM1208 176h2v1h-2zM1206 177h2v1h-2zM1205 178h1v1h-1zM1203 179h2v1h-2zM1201 180h2v1h-2zM1199 181h2v1h-2zM1198 182h1v1h-1zM1196 183h2v1h-2zM1194 184h2v1h-2zM1192 185h2v1h-2zM1191 186h1v1h-1zM1189 187h2v1h-2zM1187 188h2v1h-2zM1185 189h2v1h-2zM1184 190h1v1h-1zM1182 191h2v1h-2zM1180 192h2v1h-2zM1178 193h2v1h-2zM1176 194h2v1h-2zM1175 195h1v1h-1zM1173 196h2v1h-2zM1171 197h2v1h-2zM1169 198h2v1h-2zM1168 199h1v1h-1zM1166 200h2v1h-2zM1164 201h2v1h-2zM1162 202h2v1h-2zM1161 203h1v1h-1zM1159 204h2v1h-2zM1157 205h2v1h-2zM1155 206h2v1h-2zM1154 207h1v1h-1zM1152 208h2v1h-2zM1150 209h2v1h-2zM1148 210h2v1h-2zM1147 211h1v1h-1zM1145 212h2v1h-2zM1143 213h2v1h-2zM1141 214h2v1h-2zM1140 215h1v1h-1zM1138 216h2v1h-2zM1136 217h2v1h-2zM1134 218h2v1h-2zM1133 219h1v1h-1zM1131 220h2v1h-2zM1129 221h2v1h-2zM1127 222h2v1h-2zM1126 223h1v1h-1zM1124 224h2v1h-2zM1122 225h2v1h-2zM1120 226h2v1h-2zM1118 227h2v1h-2zM1117 228h1v1h-1zM1115 229h2v1h-2zM1113 230h2v1h-2zM1111 231h2v1h-2zM1110 232h1v1h-1zM1108 233h2v1h-2zM1106 234h2v1h-2zM1104 235h2v1h-2zM1103 236h1v1h-1zM1101 237h2v1h-2zM1099 238h2v1h-2zM1097 239h2v1h-2zM1096 240h1v1h-1zM1094 241h2v1h-2zM1092 242h2v1h-2zM1090 243h2v1h-2zM1089 244h1v1h-1zM1087 245h2v1h-2zM1085 246h2v1h-2zM1083 247h2v1h-2zM1082 248h1v1h-1zM1080 249h2v1h-2zM1078 250h2v1h-2zM1076 251h2v1h-2zM1075 252h1v1h-1zM1073 253h2v1h-2zM1071 254h2v1h-2zM1069 255h2v1h-2zM1068 256h1v1h-1zM1066 257h2v1h-2zM1064 258h2v1h-2zM1062 259h2v1h-2zM1060 260h2v1h-2zM1059 261h1v1h-1zM1057 262h2v1h-2zM1055 263h2v1h-2zM1053 264h2v1h-2zM1052 265h1v1h-1zM1050 266h2v1h-2zM1048 267h2v1h-2zM1046 268h2v1h-2zM1045 269h1v1h-1zM1043 270h2v1h-2zM1041 271h2v1h-2zM1039 272h2v1h-2zM1038 273h1v1h-1zM1036 274h2v1h-2zM1034 275h2v1h-2zM1032 276h2v1h-2zM1031 277h1v1h-1zM1029 278h2v1h-2zM1027 279h2v1h-2zM1025 280h2v1h-2zM1024 281h1v1h-1zM1022 282h2v1h-2zM1020 283h2v1h-2zM1018 284h2v1h-2zM1017 285h1v1h-1zM1015 286h2v1h-2zM1013 287h2v1h-2zM1011 288h2v1h-2zM1010 289h1v1h-1zM1008 290h2v1h-2zM1006 291h2v1h-2zM1004 292h2v1h-2zM1002 293h2v1h-2zM1001 294h1v1h-1zM999 295h2v1h-2zM997 296h2v1h-2zM995 297h2v1h-2zM994 298h1v1h-1zM992 299h2v1h-2zM990 300h2v1h-2zM988 301h2v1h-2zM987 302h1v1h-1zM985 303h2v1h-2zM983 304h2v1h-2zM981 305h2v1h-2zM980 306h1v1h-1zM978 307h2v1h-2zM976 308h2v1h-2zM974 309h2v1h-2zM973 310h1v1h-1zM971 311h2v1h-2zM969 312h2v1h-2zM967 313h2v1h-2zM966 314h1v1h-1zM964 315h2v1h-2zM962 316h2v1h-2zM960 317h2v1h-2zM959 318h1v1h-1zM957 319h2v1h-2zM955 320h2v1h-2zM953 321h2v1h-2zM952 322h1v1h-1zM950 323h2v1h-2zM948 324h2v1h-2zM946 325h2v1h-2zM944 326h2v1h-2zM943 327h1v1h-1zM941 328h2v1h-2zM939 329h2v1h-2zM937 330h2v1h-2zM936 331h1v1h-1zM934 332h2v1h-2zM932 333h2v1h-2zM930 334h2v1h-2zM929 335h1v1h-1zM927 336h2v1h-2zM925 337h2v1h-2zM923 338h2v1h-2zM922 339h1v1h-1zM920 340h2v1h-2zM918 341h2v1h-2zM916 342h2v1h-2zM915 343h1v1h-1zM913 344h2v1h-2zM911 345h2v1h-2zM909 346h2v1h-2zM908 347h1v1h-1zM906 348h2v1h-2zM904 349h2v1h-2zM902 350h2v1h-2zM901 351h1v1h-1zM899 352h2v1h-2zM897 353h2v1h-2zM895 354h2v1h-2zM894 355h1v1h-1zM892 356h2v1h-2zM890 357h2v1h-2zM888 358h2v1h-2zM886 359h2v1h-2zM885 360h1v1h-1zM883 361h2v1h-2zM881 362h2v1h-2zM879 363h2v1h-2zM878 364h1v1h-1zM876 365h2v1h-2zM874 366h2v1h-2zM872 367h2v1h-2zM871 368h1v1h-1zM869 369h2v1h-2zM867 370h2v1h-2zM865 371h2v1h-2zM864 372h1v1h-1zM862 373h2v1h-2zM860 374h2v1h-2zM858 375h2v1h-2zM857 376h1v1h-1zM855 377h2v1h-2zM853 378h2v1h-2zM851 379h2v1h-2zM850 380h1v1h-1zM848 381h2v1h-2zM846 382h2v1h-2zM844 383h2v1h-2zM843 384h1v1h-1zM841 385h2v1h-2zM839 386h2v1h-2zM837 387h2v1h-2zM836 388h1v1h-1zM834 389h2v1h-2zM832 390h2v1h-2zM830 391h2v1h-2zM828 392h2v1h-2zM827 393h1v1h-1zM825 394h2v1h-2zM823 395h2v1h-2zM821 396h2v1h-2zM820 397h1v1h-1zM818 398h2v1h-2zM816 399h2v1h-2zM814 400h2v1h-2zM813 401h1v1h-1zM811 402h2v1h-2zM809 403h2v1h-2zM807 404h2v1h-2zM806 405h1v1h-1zM804 406h2v1h-2zM802 407h2v1h-2zM800 408h2v1h-2zM799 409h1v1h-1zM797 410h2v1h-2zM795 411h2v1h-2zM793 412h2v1h-2zM792 413h1v1h-1zM790 414h2v1h-2zM788 415h2v1h-2zM786 416h2v1h-2zM785 417h1v1h-1zM783 418h2v1h-2zM781 419h2v1h-2zM779 420h2v1h-2zM778 421h1v1h-1zM776 422h2v1h-2zM774 423h2v1h-2zM772 424h2v1h-2zM770 425h2v1h-2zM769 426h1v1h-1zM767 427h2v1h-2zM765 428h2v1h-2zM763 429h2v1h-2zM762 430h1v1h-1zM760 431h2v1h-2zM758 432h2v1h-2zM756 433h2v1h-2zM755 434h1v1h-1zM753 435h2v1h-2zM751 436h2v1h-2zM749 437h2v1h-2zM748 438h1v1h-1zM746 439h2v1h-2zM744 440h2v1h-2zM742 441h2v1h-2zM741 442h1v1h-1zM739 443h2v1h-2zM737 444h2v1h-2zM735 445h2v1h-2zM734 446h1v1h-1zM732 447h2v1h-2zM730 448h2v1h-2zM728 449h2v1h-2zM727 450h1v1h-1zM725 451h2v1h-2zM723 452h2v1h-2zM721 453h2v1h-2zM720 454h1v1h-1zM718 455h2v1h-2zM716 456h2v1h-2zM714 457h2v1h-2zM712 458h2v1h-2zM711 459h1v1h-1zM709 460h2v1h-2zM707 461h2v1h-2zM705 462h2v1h-2zM704 463h1v1h-1zM702 464h2v1h-2zM700 465h2v1h-2zM698 466h2v1h-2zM697 467h1v1h-1zM695 468h2v1h-2zM693 469h2v1h-2zM691 470h2v1h-2zM690 471h1v1h-1zM688 472h2v1h-2zM686 473h2v1h-2zM684 474h2v1h-2zM683 475h1v1h-1z" fill="#000" shape-rendering="crispEdges"/>
<path d="M953 71h1v1h-1zM952 72h1v1h-1zM952 73h1v1h-1zM949 77h1v1h-1zM948 78h1v1h-1zM948 79h1v1h-1zM945 83h1v1h-1zM944 84h1v1h-1zM944 85h1v1h-1zM941 89h1v1h-1zM940 90h1v1h-1zM940 91h1v1h-1zM937 95h1v1h-1zM936 96h1v1h-1zM936 97h1v1h-1zM933 101h1v1h-1zM932 102h1v1h-1zM932 103h1v1h-1zM929 107h1v1h-1zM928 108h1v1h-1zM928 109h1v1h-1zM925 113h1v1h-1zM924 114h1v1h-1zM924 115h1v1h-1zM921 119h1v1h-1zM920 120h1v1h-1zM920 121h1v1h-1zM917 125h1v1h-1zM916 126h1v1h-1zM916 127h1v1h-1zM913 131h1v1h-1zM912 132h1v1h-1zM912 133h1v1h-1zM909 137h1v1h-1zM908 138h1v1h-1zM908 139h1v1h-1zM905 143h1v1h-1zM904 144h1v1h-1zM904 145h1v1h-1zM901 149h1v1h-1zM900 150h1v1h-1zM900 151h1v1h-1zM897 155h1v1h-1zM896 156h1v1h-1zM896 157h1v1h-1zM893 161h1v1h-1zM892 162h1v1h-1zM892 163h1v1h-1zM889 167h1v1h-1zM888 168h1v1h-1zM888 169h1v1h-1zM885 173h1v1h-1zM884 174h1v1h-1zM883 175h1v1h-1zM881 179h1v1h-1zM880 180h1v1h-1zM879 181h1v1h-1zM877 185h1v1h-1zM876 186h1v1h-1zM875 187h1v1h-1zM873 191h1v1h-1zM872 192h1v1h-1zM871 193h1v1h-1zM869 197h1v1h-1zM868 198h1v1h-1zM867 199h1v1h-1zM865 203h1v1h-1zM864 204h1v1h-1zM863 205h1v1h-1zM861 209h1v1h-1zM860 210h1v1h-1zM859 211h1v1h-1zM857 215h1v1h-1zM856 216h1v1h-1zM855 217h1v1h-1zM853 221h1v1h-1zM852 222h1v1h-1zM851 223h1v1h-1zM849 227h1v1h-1zM848 228h1v1h-1zM847 229h1v1h-1zM845 233h1v1h-1zM844 234h1v1h-1zM843 235h1v1h-1zM841 239h1v1h-1zM840 240h1v1h-1zM839 241h1v1h-1zM837 245h1v1h-1zM836 246h1v1h-1zM835 247h1v1h-1zM833 251h1v1h-1zM832 252h1v1h-1zM831 253h1v1h-1zM829 257h1v1h-1zM828 258h1v1h-1zM827 259h1v1h-1zM825 263h1v1h-1zM824 264h1v1h-1zM823 265h1v1h-1zM821 269h1v1h-1zM820 270h1v1h-1zM819 271h1v1h-1zM817 275h1v1h-1zM816 276h1v1h-1zM815 277h1v1h-1zM813 281h1v1h-1zM812 282h1v1h-1zM811 283h1v1h-1zM809 287h1v1h-1zM808 288h1v1h-1zM807 289h1v1h-1zM805 293h1v1h-1zM804 294h1v1h-1zM803 295h1v1h-1zM801 299h1v1h-1zM800 300h1v1h-1zM799 301h1v1h-1zM797 305h1v1h-1zM796 306h1v1h-1zM795 307h1v1h-1zM793 311h1v1h-1zM792 312h1v1h-1zM791 313h1v1h-1zM789 317h1v1h-1zM788 318h1v1h-1zM787 319h1v1h-1zM785 323h1v1h-1zM784 324h1v1h-1zM783 325h1v1h-1zM781 329h1v1h-1zM780 330h1v1h-1zM779 331h1v1h-1zM777 335h1v1h-1zM776 336h1v1h-1zM775 337h1v1h-1zM773 341h1v1h-1zM772 342h1v1h-1zM771 343h1v1h-1zM769 347h1v1h-1zM768 348h1v1h-1zM767 349h1v1h-1zM765 353h1v1h-1zM764 354h1v1h-1zM763 355h1v1h-1zM761 359h1v1h-1zM760 360h1v1h-1zM759 361h1v1h-1zM757 365h1v1h-1zM756 366h1v1h-1zM755 367h1v1h-1zM753 371h1v1h-1zM752 372h1v1h-1zM751 373h1v1h-1zM748 377h1v1h-1zM748 378h1v1h-1zM747 379h1v1h-1zM744 383h1v1h-1zM744 384h1v1h-1zM743 385h1v1h-1zM740 389h1v1h-1zM740 390h1v1h-1zM739 391h1v1h-1zM736 395h1v1h-1zM736 396h1v1h-1zM735 397h1v1h-1zM732 401h1v1h-1zM732 402h1v1h-1zM731 403h1v1h-1zM728 407h1v1h-1zM728 408h1v1h-1zM727 409h1v1h-1zM724 413h1v1h-1zM724 414h1v1h-1zM723 415h1v1h-1zM720 419h1v1h-1zM720 420h1v1h-1zM719 421h1v1h-1zM716 425h1v1h-1zM716 426h1v1h-1zM715 427h1v1h-1zM712 431h1v1h-1zM712 432h1v1h-1zM711 433h1v1h-1zM708 437h1v1h-1zM708 438h1v1h-1zM707 439h1v1h-1zM704 443h1v1h-1zM704 444h1v1h-1zM703 445h1v1h-1zM700 449h1v1h-1zM700 450h1v1h-1zM699 451h1v1h-1zM696 455h1v1h-1zM696 456h1v1h-1zM695 457h1v1h-1zM692 461h1v1h-1zM692 462h1v1h-1zM691 463h1v1h-1zM688 467h1v1h-1zM688 468h1v1h-1zM687 469h1v1h-1zM684 473h1v1h-1zM684 474h1v1h-1zM683 475h1v1h-1z" fill="#B22222" shape-rendering="crispEdges"/>
<g shape-rendering="crispEdges">
<line x1="3" y1="26.5" x2="1348" y2="26.5" stroke="#B22222" stroke-width="1" stroke-dasharray="18 6"/>
<line x1="3" y1="87.5" x2="1348" y2="87.5" stroke="#B22222" stroke-width="1" stroke-dasharray="18 6"/>
<line x1="3" y1="414.5" x2="1348" y2="414.5" stroke="#000" stroke-width="1" stroke-dasharray="18 6"/>
<line x1="3" y1="475.5" x2="1348" y2="475.5" stroke="#000" stroke-width="1" stroke-dasharray="18 6"/>
</g>
<polygon points="1320.5,2 1347.3,64 1334,64 1334,126 1307,126 1307,64 1293.7,64" fill="#000" shape-rendering="crispEdges"/>
<path d="M3 491h5v1h-5zM8 492h9v1h-9zM17 493h4v1h-4zM27 494h7v1h-7zM34 495h9v1h-9zM43 496h2v1h-2zM51 496h1v1h-1zM52 497h8v1h-8zM60 498h9v1h-9zM75 499h3v1h-3zM78 500h8v1h-8zM86 501h7v1h-7zM99 502h5v1h-5zM104 503h9v1h-9zM113 504h4v1h-4zM123 505h7v1h-7zM130 506h9v1h-9zM139 507h2v1h-2zM147 507h1v1h-1zM148 508h8v1h-8zM156 509h9v1h-9zM171 510h3v1h-3zM174 511h8v1h-8zM182 512h7v1h-7zM195 513h5v1h-5zM200 514h9v1h-9zM209 515h4v1h-4zM219 516h7v1h-7zM226 517h9v1h-9zM235 518h2v1h-2zM243 518h1v1h-1zM244 519h8v1h-8zM252 520h9v1h-9zM267 521h3v1h-3zM270 522h8v1h-8zM278 523h7v1h-7zM291 524h5v1h-5zM296 525h9v1h-9zM305 526h4v1h-4zM315 527h7v1h-7zM322 528h9v1h-9zM331 529h2v1h-2zM339 529h1v1h-1zM340 530h8v1h-8zM348 531h9v1h-9zM363 532h3v1h-3zM366 533h9v1h-9zM375 534h6v1h-6zM387 535h5v1h-5zM392 536h9v1h-9zM401 537h4v1h-4zM411 538h7v1h-7zM418 539h9v1h-9zM427 540h2v1h-2zM435 540h1v1h-1zM436 541h8v1h-8zM444 542h9v1h-9zM459 543h3v1h-3zM462 544h9v1h-9zM471 545h6v1h-6zM483 546h5v1h-5zM488 547h9v1h-9zM497 548h4v1h-4zM507 549h7v1h-7zM514 550h9v1h-9zM523 551h2v1h-2zM531 551h1v1h-1zM532 552h8v1h-8zM540 553h9v1h-9zM555 554h3v1h-3zM558 555h9v1h-9zM567 556h6v1h-6zM579 557h5v1h-5zM584 558h9v1h-9zM593 559h4v1h-4zM603 560h7v1h-7zM610 561h9v1h-9zM619 562h2v1h-2zM627 562h1v1h-1zM628 563h8v1h-8zM636 564h9v1h-9zM651 565h3v1h-3zM654 566h9v1h-9zM663 567h6v1h-6zM675 568h5v1h-5zM680 569h9v1h-9zM689 570h4v1h-4zM699 571h7v1h-7zM706 572h9v1h-9zM715 573h2v1h-2zM723 573h1v1h-1zM724 574h8v1h-8zM732 575h9v1h-9zM747 576h3v1h-3zM750 577h9v1h-9zM759 578h6v1h-6zM771 579h5v1h-5zM776 580h9v1h-9zM785 581h4v1h-4zM795 582h7v1h-7zM802 583h9v1h-9zM811 584h2v1h-2zM819 584h1v1h-1zM820 585h8v1h-8zM828 586h9v1h-9zM843 587h3v1h-3zM846 588h9v1h-9zM855 589h6v1h-6zM867 590h5v1h-5zM872 591h9v1h-9zM881 592h4v1h-4zM891 593h7v1h-7zM898 594h9v1h-9zM907 595h2v1h-2zM915 595h1v1h-1zM916 596h8v1h-8zM924 597h9v1h-9zM939 598h3v1h-3zM942 599h9v1h-9zM951 600h6v1h-6zM963 601h5v1h-5zM968 602h9v1h-9zM977 603h4v1h-4zM987 604h7v1h-7zM994 605h9v1h-9zM1003 606h2v1h-2zM1011 606h1v1h-1zM1012 607h9v1h-9zM1021 608h8v1h-8zM1035 609h3v1h-3zM1038 610h9v1h-9zM1047 611h6v1h-6zM1059 612h5v1h-5zM1064 613h9v1h-9zM1073 614h4v1h-4zM1083 615h7v1h-7zM1090 616h9v1h-9zM1099 617h2v1h-2zM1107 617h1v1h-1zM1108 618h9v1h-9zM1117 619h8v1h-8zM1131 620h3v1h-3zM1134 621h9v1h-9zM1143 622h6v1h-6zM1155 623h5v1h-5zM1160 624h9v1h-9zM1169 625h4v1h-4zM1179 626h7v1h-7zM1186 627h9v1h-9zM1195 628h2v1h-2zM1203 628h1v1h-1zM1204 629h9v1h-9zM1213 630h8v1h-8zM1227 631h3v1h-3zM1230 632h9v1h-9zM1239 633h6v1h-6zM1251 634h5v1h-5zM1256 635h9v1h-9zM1265 636h4v1h-4zM1275 637h7v1h-7zM1282 638h9v1h-9zM1291 639h2v1h-2zM1299 639h1v1h-1zM1300 640h9v1h-9zM1309 641h8v1h-8zM1323 642h3v1h-3zM1326 643h9v1h-9zM1335 644h6v1h-6zM1347 645h1v1h-1z" fill="#FF0000" shape-rendering="crispEdges"/>
<path d="M1323 688h18v1h-18zM1347 688h1v1h-1zM1283 689h10v1h-10zM1299 689h18v1h-18zM1251 690h18v1h-18zM1275 690h8v1h-8zM1213 691h8v1h-8zM1227 691h18v1h-18zM1179 692h18v1h-18zM1203 692h10v1h-10zM1142 693h7v1h-7zM1155 693h18v1h-18zM1107 694h18v1h-18zM1131 694h11v1h-11zM1071 695h6v1h-6zM1083 695h18v1h-18zM1036 696h17v1h-17zM1059 696h12v1h-12zM1001 697h4v1h-4zM1011 697h18v1h-18zM1035 697h1v1h-1zM965 698h16v1h-16zM987 698h14v1h-14zM930 699h3v1h-3zM939 699h18v1h-18zM963 699h2v1h-2zM895 700h14v1h-14zM915 700h15v1h-15zM859 701h2v1h-2zM867 701h18v1h-18zM891 701h4v1h-4zM824 702h13v1h-13zM843 702h16v1h-16zM795 703h18v1h-18zM819 703h5v1h-5zM753 704h12v1h-12zM771 704h18v1h-18zM723 705h18v1h-18zM747 705h6v1h-6zM683 706h10v1h-10zM699 706h18v1h-18zM651 707h18v1h-18zM675 707h8v1h-8zM612 708h9v1h-9zM627 708h18v1h-18zM579 709h18v1h-18zM603 709h9v1h-9zM541 710h8v1h-8zM555 710h18v1h-18zM507 711h18v1h-18zM531 711h10v1h-10zM471 712h6v1h-6zM483 712h18v1h-18zM435 713h18v1h-18zM459 713h12v1h-12zM400 714h5v1h-5zM411 714h18v1h-18zM365 715h16v1h-16zM387 715h13v1h-13zM329 716h4v1h-4zM339 716h18v1h-18zM363 716h2v1h-2zM294 717h15v1h-15zM315 717h14v1h-14zM259 718h2v1h-2zM267 718h18v1h-18zM291 718h3v1h-3zM223 719h14v1h-14zM243 719h16v1h-16zM188 720h1v1h-1zM195 720h18v1h-18zM219 720h4v1h-4zM153 721h12v1h-12zM171 721h17v1h-17zM123 722h18v1h-18zM147 722h6v1h-6zM99 723h18v1h-18z" fill="#008000" shape-rendering="crispEdges"/>
<path d="M3 501h1v1h-1zM3 502h1v1h-1zM3 503h1v1h-1zM3 504h1v1h-1zM3 505h1v1h-1zM3 506h1v1h-1zM4 507h1v1h-1zM4 508h1v1h-1zM4 509h1v1h-1zM4 510h1v1h-1zM4 511h1v1h-1zM4 512h1v1h-1zM4 513h1v1h-1zM4 514h1v1h-1zM4 515h1v1h-1zM4 516h1v1h-1zM4 517h1v1h-1zM5 518h1v1h-1zM5 519h1v1h-1zM5 520h1v1h-1zM5 521h1v1h-1zM5 522h1v1h-1zM5 523h1v1h-1zM5 524h1v1h-1zM5 525h1v1h-1zM5 526h1v1h-1zM5 527h1v1h-1zM6 528h1v1h-1zM6 529h1v1h-1zM6 530h1v1h-1zM6 531h1v1h-1zM6 532h1v1h-1zM6 533h1v1h-1zM6 534h1v1h-1zM6 535h1v1h-1zM379 535h1v1h-1zM6 536h1v1h-1zM379 536h1v1h-1zM6 537h1v1h-1zM379 537h1v1h-1zM6 538h1v1h-1zM378 538h2v1h-2zM7 539h1v1h-1zM378 539h1v1h-1zM380 539h1v1h-1zM7 540h1v1h-1zM378 540h1v1h-1zM380 540h1v1h-1zM7 541h1v1h-1zM378 541h1v1h-1zM380 541h1v1h-1zM7 542h1v1h-1zM378 542h1v1h-1zM380 542h1v1h-1zM7 543h1v1h-1zM377 543h1v1h-1zM380 543h1v1h-1zM7 544h1v1h-1zM377 544h1v1h-1zM380 544h1v1h-1zM7 545h1v1h-1zM377 545h1v1h-1zM381 545h1v1h-1zM7 546h1v1h-1zM377 546h1v1h-1zM381 546h1v1h-1zM7 547h1v1h-1zM377 547h1v1h-1zM381 547h1v1h-1zM7 548h1v1h-1zM376 548h1v1h-1zM381 548h1v1h-1zM7 549h1v1h-1zM376 549h1v1h-1zM381 549h1v1h-1zM8 550h1v1h-1zM376 550h1v1h-1zM381 550h1v1h-1zM8 551h1v1h-1zM376 551h1v1h-1zM381 551h1v1h-1zM8 552h1v1h-1zM376 552h1v1h-1zM382 552h1v1h-1zM8 553h1v1h-1zM375 553h1v1h-1zM382 553h1v1h-1zM8 554h1v1h-1zM375 554h1v1h-1zM382 554h1v1h-1zM8 555h1v1h-1zM375 555h1v1h-1zM382 555h1v1h-1zM8 556h1v1h-1zM375 556h1v1h-1zM382 556h1v1h-1zM8 557h1v1h-1zM375 557h1v1h-1zM382 557h1v1h-1zM8 558h1v1h-1zM374 558h1v1h-1zM383 558h1v1h-1zM8 559h1v1h-1zM374 559h1v1h-1zM383 559h1v1h-1zM8 560h1v1h-1zM374 560h1v1h-1zM383 560h1v1h-1zM9 561h1v1h-1zM374 561h1v1h-1zM383 561h1v1h-1zM9 562h1v1h-1zM374 562h1v1h-1zM383 562h1v1h-1zM963 562h1v1h-1zM9 563h1v1h-1zM373 563h1v1h-1zM383 563h1v1h-1zM962 563h2v1h-2zM9 564h1v1h-1zM35 564h1v1h-1zM373 564h1v1h-1zM383 564h1v1h-1zM961 564h1v1h-1zM963 564h1v1h-1zM9 565h1v1h-1zM35 565h1v1h-1zM373 565h1v1h-1zM384 565h1v1h-1zM960 565h1v1h-1zM963 565h1v1h-1zM9 566h1v1h-1zM34 566h2v1h-2zM373 566h1v1h-1zM384 566h1v1h-1zM959 566h1v1h-1zM964 566h1v1h-1zM9 567h1v1h-1zM34 567h2v1h-2zM373 567h1v1h-1zM384 567h1v1h-1zM959 567h1v1h-1zM964 567h1v1h-1zM9 568h1v1h-1zM33 568h1v1h-1zM36 568h1v1h-1zM372 568h1v1h-1zM384 568h1v1h-1zM947 568h2v1h-2zM958 568h1v1h-1zM964 568h1v1h-1zM9 569h1v1h-1zM33 569h1v1h-1zM36 569h1v1h-1zM372 569h1v1h-1zM384 569h1v1h-1zM947 569h1v1h-1zM949 569h2v1h-2zM957 569h1v1h-1zM964 569h1v1h-1zM9 570h1v1h-1zM33 570h1v1h-1zM36 570h1v1h-1zM372 570h1v1h-1zM384 570h1v1h-1zM947 570h1v1h-1zM951 570h3v1h-3zM956 570h1v1h-1zM964 570h1v1h-1zM10 571h1v1h-1zM32 571h1v1h-1zM36 571h1v1h-1zM372 571h1v1h-1zM385 571h1v1h-1zM946 571h1v1h-1zM954 571h2v1h-2zM964 571h1v1h-1zM10 572h1v1h-1zM32 572h1v1h-1zM36 572h1v1h-1zM372 572h1v1h-1zM385 572h1v1h-1zM946 572h1v1h-1zM964 572h1v1h-1zM10 573h1v1h-1zM32 573h1v1h-1zM36 573h1v1h-1zM371 573h1v1h-1zM385 573h1v1h-1zM946 573h1v1h-1zM965 573h1v1h-1zM10 574h1v1h-1zM31 574h1v1h-1zM36 574h1v1h-1zM371 574h1v1h-1zM385 574h1v1h-1zM946 574h1v1h-1zM965 574h1v1h-1zM10 575h1v1h-1zM31 575h1v1h-1zM36 575h1v1h-1zM371 575h1v1h-1zM385 575h1v1h-1zM946 575h1v1h-1zM965 575h1v1h-1zM10 576h1v1h-1zM30 576h1v1h-1zM37 576h1v1h-1zM371 576h1v1h-1zM385 576h1v1h-1zM946 576h1v1h-1zM965 576h1v1h-1zM10 577h1v1h-1zM30 577h1v1h-1zM37 577h1v1h-1zM371 577h1v1h-1zM385 577h1v1h-1zM945 577h1v1h-1zM965 577h1v1h-1zM10 578h1v1h-1zM30 578h1v1h-1zM37 578h1v1h-1zM370 578h1v1h-1zM386 578h1v1h-1zM945 578h1v1h-1zM965 578h1v1h-1zM10 579h1v1h-1zM29 579h1v1h-1zM37 579h1v1h-1zM370 579h1v1h-1zM386 579h1v1h-1zM945 579h1v1h-1zM965 579h1v1h-1zM10 580h1v1h-1zM29 580h1v1h-1zM37 580h1v1h-1zM370 580h1v1h-1zM386 580h1v1h-1zM945 580h1v1h-1zM966 580h1v1h-1zM10 581h1v1h-1zM29 581h1v1h-1zM37 581h1v1h-1zM370 581h1v1h-1zM386 581h1v1h-1zM945 581h1v1h-1zM966 581h1v1h-1zM11 582h1v1h-1zM28 582h1v1h-1zM37 582h1v1h-1zM51 582h1v1h-1zM369 582h1v1h-1zM386 582h1v1h-1zM945 582h1v1h-1zM966 582h1v1h-1zM11 583h1v1h-1zM28 583h1v1h-1zM37 583h1v1h-1zM51 583h1v1h-1zM369 583h1v1h-1zM386 583h1v1h-1zM944 583h1v1h-1zM966 583h1v1h-1zM11 584h1v1h-1zM27 584h1v1h-1zM38 584h1v1h-1zM51 584h1v1h-1zM369 584h1v1h-1zM387 584h1v1h-1zM944 584h1v1h-1zM966 584h1v1h-1zM11 585h1v1h-1zM27 585h1v1h-1zM38 585h1v1h-1zM50 585h2v1h-2zM369 585h1v1h-1zM387 585h1v1h-1zM944 585h1v1h-1zM966 585h1v1h-1zM11 586h1v1h-1zM27 586h1v1h-1zM38 586h1v1h-1zM50 586h2v1h-2zM368 586h1v1h-1zM387 586h1v1h-1zM944 586h1v1h-1zM966 586h1v1h-1zM11 587h1v1h-1zM26 587h1v1h-1zM38 587h1v1h-1zM50 587h2v1h-2zM368 587h1v1h-1zM387 587h1v1h-1zM419 587h2v1h-2zM944 587h1v1h-1zM967 587h1v1h-1zM12 588h1v1h-1zM26 588h1v1h-1zM38 588h1v1h-1zM50 588h2v1h-2zM368 588h1v1h-1zM388 588h1v1h-1zM418 588h1v1h-1zM421 588h3v1h-3zM433 588h3v1h-3zM944 588h1v1h-1zM967 588h1v1h-1zM12 589h1v1h-1zM25 589h1v1h-1zM38 589h1v1h-1zM50 589h1v1h-1zM52 589h1v1h-1zM368 589h1v1h-1zM388 589h1v1h-1zM418 589h1v1h-1zM424 589h2v1h-2zM430 589h3v1h-3zM435 589h1v1h-1zM943 589h1v1h-1zM967 589h1v1h-1zM13 590h1v1h-1zM25 590h1v1h-1zM38 590h1v1h-1zM50 590h1v1h-1zM52 590h1v1h-1zM367 590h1v1h-1zM389 590h1v1h-1zM417 590h1v1h-1zM426 590h4v1h-4zM436 590h1v1h-1zM943 590h1v1h-1zM967 590h1v1h-1zM13 591h1v1h-1zM24 591h1v1h-1zM38 591h1v1h-1zM49 591h1v1h-1zM52 591h1v1h-1zM367 591h1v1h-1zM389 591h1v1h-1zM417 591h1v1h-1zM436 591h1v1h-1zM943 591h1v1h-1zM967 591h1v1h-1zM14 592h1v1h-1zM24 592h1v1h-1zM39 592h1v1h-1zM49 592h1v1h-1zM52 592h1v1h-1zM367 592h1v1h-1zM390 592h1v1h-1zM416 592h1v1h-1zM436 592h1v1h-1zM943 592h1v1h-1zM967 592h1v1h-1zM14 593h1v1h-1zM23 593h1v1h-1zM39 593h1v1h-1zM49 593h1v1h-1zM52 593h1v1h-1zM367 593h1v1h-1zM390 593h1v1h-1zM416 593h1v1h-1zM436 593h1v1h-1zM915 593h1v1h-1zM943 593h1v1h-1zM968 593h1v1h-1zM15 594h1v1h-1zM23 594h1v1h-1zM39 594h1v1h-1zM49 594h1v1h-1zM52 594h1v1h-1zM366 594h1v1h-1zM391 594h1v1h-1zM415 594h1v1h-1zM437 594h1v1h-1zM915 594h1v1h-1zM943 594h1v1h-1zM968 594h1v1h-1zM1002 594h2v1h-2zM15 595h1v1h-1zM22 595h1v1h-1zM39 595h1v1h-1zM49 595h1v1h-1zM52 595h1v1h-1zM366 595h1v1h-1zM391 595h1v1h-1zM415 595h1v1h-1zM437 595h1v1h-1zM914 595h1v1h-1zM916 595h1v1h-1zM942 595h1v1h-1zM968 595h1v1h-1zM1000 595h2v1h-2zM1004 595h1v1h-1zM16 596h1v1h-1zM22 596h1v1h-1zM39 596h1v1h-1zM49 596h1v1h-1zM52 596h1v1h-1zM323 596h1v1h-1zM366 596h1v1h-1zM392 596h1v1h-1zM414 596h1v1h-1zM437 596h1v1h-1zM914 596h1v1h-1zM916 596h1v1h-1zM942 596h1v1h-1zM968 596h1v1h-1zM997 596h3v1h-3zM1004 596h1v1h-1zM16 597h1v1h-1zM21 597h1v1h-1zM39 597h1v1h-1zM48 597h1v1h-1zM52 597h1v1h-1zM323 597h1v1h-1zM366 597h1v1h-1zM392 597h1v1h-1zM414 597h1v1h-1zM437 597h1v1h-1zM914 597h1v1h-1zM916 597h1v1h-1zM942 597h1v1h-1zM968 597h1v1h-1zM995 597h2v1h-2zM1004 597h1v1h-1zM17 598h1v1h-1zM21 598h1v1h-1zM39 598h1v1h-1zM48 598h1v1h-1zM52 598h1v1h-1zM322 598h1v1h-1zM324 598h1v1h-1zM365 598h1v1h-1zM393 598h1v1h-1zM413 598h1v1h-1zM438 598h1v1h-1zM913 598h1v1h-1zM916 598h1v1h-1zM942 598h1v1h-1zM968 598h1v1h-1zM994 598h1v1h-1zM1005 598h1v1h-1zM17 599h1v1h-1zM20 599h1v1h-1zM39 599h1v1h-1zM48 599h1v1h-1zM52 599h1v1h-1zM322 599h1v1h-1zM324 599h1v1h-1zM365 599h1v1h-1zM393 599h1v1h-1zM413 599h1v1h-1zM438 599h1v1h-1zM913 599h1v1h-1zM917 599h1v1h-1zM942 599h1v1h-1zM968 599h1v1h-1zM993 599h1v1h-1zM1006 599h1v1h-1zM18 600h1v1h-1zM20 600h1v1h-1zM40 600h1v1h-1zM48 600h1v1h-1zM52 600h1v1h-1zM322 600h1v1h-1zM325 600h1v1h-1zM365 600h1v1h-1zM394 600h1v1h-1zM412 600h1v1h-1zM438 600h1v1h-1zM913 600h1v1h-1zM917 600h1v1h-1zM942 600h1v1h-1zM969 600h1v1h-1zM992 600h1v1h-1zM1006 600h1v1h-1zM18 601h2v1h-2zM40 601h1v1h-1zM48 601h1v1h-1zM52 601h1v1h-1zM291 601h1v1h-1zM321 601h1v1h-1zM325 601h1v1h-1zM365 601h1v1h-1zM394 601h1v1h-1zM400 601h7v1h-7zM412 601h1v1h-1zM438 601h1v1h-1zM912 601h1v1h-1zM917 601h1v1h-1zM941 601h1v1h-1zM969 601h1v1h-1zM991 601h1v1h-1zM1006 601h1v1h-1zM19 602h1v1h-1zM40 602h1v1h-1zM47 602h1v1h-1zM53 602h1v1h-1zM288 602h3v1h-3zM292 602h1v1h-1zM321 602h1v1h-1zM325 602h1v1h-1zM364 602h1v1h-1zM395 602h5v1h-5zM407 602h5v1h-5zM439 602h1v1h-1zM771 602h1v1h-1zM912 602h1v1h-1zM918 602h1v1h-1zM941 602h1v1h-1zM969 602h1v1h-1zM990 602h1v1h-1zM1007 602h1v1h-1zM40 603h1v1h-1zM47 603h1v1h-1zM53 603h1v1h-1zM287 603h1v1h-1zM292 603h1v1h-1zM320 603h1v1h-1zM326 603h1v1h-1zM364 603h1v1h-1zM439 603h1v1h-1zM771 603h2v1h-2zM912 603h1v1h-1zM918 603h1v1h-1zM941 603h1v1h-1zM969 603h1v1h-1zM989 603h1v1h-1zM1008 603h1v1h-1zM40 604h1v1h-1zM47 604h1v1h-1zM53 604h1v1h-1zM284 604h3v1h-3zM292 604h1v1h-1zM320 604h1v1h-1zM326 604h1v1h-1zM364 604h1v1h-1zM439 604h1v1h-1zM770 604h1v1h-1zM773 604h1v1h-1zM911 604h1v1h-1zM918 604h1v1h-1zM941 604h1v1h-1zM969 604h1v1h-1zM988 604h1v1h-1zM1008 604h1v1h-1zM40 605h1v1h-1zM47 605h1v1h-1zM53 605h1v1h-1zM283 605h1v1h-1zM293 605h1v1h-1zM320 605h1v1h-1zM326 605h1v1h-1zM364 605h1v1h-1zM440 605h1v1h-1zM723 605h1v1h-1zM770 605h1v1h-1zM773 605h1v1h-1zM803 605h1v1h-1zM911 605h1v1h-1zM918 605h1v1h-1zM941 605h1v1h-1zM969 605h1v1h-1zM987 605h1v1h-1zM1008 605h1v1h-1zM40 606h1v1h-1zM47 606h1v1h-1zM53 606h1v1h-1zM283 606h1v1h-1zM294 606h1v1h-1zM319 606h1v1h-1zM327 606h1v1h-1zM363 606h1v1h-1zM440 606h1v1h-1zM723 606h1v1h-1zM769 606h1v1h-1zM774 606h1v1h-1zM802 606h1v1h-1zM804 606h1v1h-1zM911 606h1v1h-1zM919 606h1v1h-1zM941 606h1v1h-1zM969 606h1v1h-1zM985 606h2v1h-2zM1009 606h1v1h-1zM40 607h1v1h-1zM47 607h1v1h-1zM53 607h1v1h-1zM283 607h1v1h-1zM294 607h1v1h-1zM319 607h1v1h-1zM327 607h1v1h-1zM363 607h1v1h-1zM440 607h1v1h-1zM722 607h1v1h-1zM724 607h1v1h-1zM769 607h1v1h-1zM775 607h1v1h-1zM801 607h1v1h-1zM805 607h1v1h-1zM910 607h1v1h-1zM919 607h1v1h-1zM940 607h1v1h-1zM970 607h1v1h-1zM984 607h1v1h-1zM1010 607h1v1h-1zM41 608h1v1h-1zM46 608h1v1h-1zM53 608h1v1h-1zM282 608h1v1h-1zM294 608h1v1h-1zM319 608h1v1h-1zM328 608h1v1h-1zM362 608h2v1h-2zM440 608h1v1h-1zM722 608h1v1h-1zM724 608h1v1h-1zM768 608h1v1h-1zM776 608h1v1h-1zM801 608h1v1h-1zM806 608h1v1h-1zM910 608h1v1h-1zM919 608h1v1h-1zM940 608h1v1h-1zM970 608h1v1h-1zM982 608h2v1h-2zM1010 608h1v1h-1zM41 609h1v1h-1zM46 609h1v1h-1zM53 609h1v1h-1zM282 609h1v1h-1zM295 609h1v1h-1zM318 609h1v1h-1zM328 609h1v1h-1zM361 609h1v1h-1zM441 609h1v1h-1zM722 609h1v1h-1zM725 609h1v1h-1zM768 609h1v1h-1zM777 609h1v1h-1zM800 609h1v1h-1zM807 609h1v1h-1zM910 609h1v1h-1zM920 609h1v1h-1zM940 609h1v1h-1zM970 609h1v1h-1zM980 609h2v1h-2zM1010 609h1v1h-1zM41 610h1v1h-1zM46 610h1v1h-1zM53 610h1v1h-1zM282 610h1v1h-1zM296 610h1v1h-1zM318 610h1v1h-1zM328 610h1v1h-1zM358 610h3v1h-3zM441 610h1v1h-1zM722 610h1v1h-1zM725 610h1v1h-1zM767 610h1v1h-1zM777 610h1v1h-1zM799 610h1v1h-1zM807 610h1v1h-1zM867 610h1v1h-1zM909 610h1v1h-1zM920 610h1v1h-1zM940 610h1v1h-1zM970 610h1v1h-1zM979 610h1v1h-1zM1011 610h1v1h-1zM41 611h1v1h-1zM46 611h1v1h-1zM53 611h1v1h-1zM282 611h1v1h-1zM296 611h1v1h-1zM318 611h1v1h-1zM329 611h1v1h-1zM347 611h4v1h-4zM357 611h1v1h-1zM441 611h1v1h-1zM721 611h1v1h-1zM726 611h1v1h-1zM767 611h1v1h-1zM778 611h1v1h-1zM784 611h4v1h-4zM798 611h1v1h-1zM808 611h1v1h-1zM867 611h1v1h-1zM909 611h1v1h-1zM920 611h1v1h-1zM940 611h1v1h-1zM970 611h1v1h-1zM978 611h1v1h-1zM1011 611h1v1h-1zM41 612h1v1h-1zM46 612h1v1h-1zM53 612h1v1h-1zM282 612h1v1h-1zM296 612h1v1h-1zM317 612h1v1h-1zM329 612h1v1h-1zM346 612h1v1h-1zM351 612h6v1h-6zM441 612h1v1h-1zM721 612h1v1h-1zM726 612h1v1h-1zM766 612h1v1h-1zM779 612h5v1h-5zM788 612h3v1h-3zM797 612h1v1h-1zM809 612h1v1h-1zM866 612h1v1h-1zM868 612h1v1h-1zM909 612h1v1h-1zM920 612h1v1h-1zM940 612h1v1h-1zM970 612h1v1h-1zM977 612h1v1h-1zM1012 612h1v1h-1zM41 613h1v1h-1zM45 613h1v1h-1zM53 613h1v1h-1zM281 613h1v1h-1zM297 613h1v1h-1zM317 613h1v1h-1zM329 613h1v1h-1zM346 613h1v1h-1zM442 613h1v1h-1zM721 613h1v1h-1zM726 613h1v1h-1zM766 613h1v1h-1zM791 613h1v1h-1zM797 613h1v1h-1zM810 613h1v1h-1zM866 613h1v1h-1zM868 613h1v1h-1zM908 613h1v1h-1zM921 613h1v1h-1zM939 613h1v1h-1zM970 613h1v1h-1zM976 613h1v1h-1zM1012 613h1v1h-1zM41 614h1v1h-1zM45 614h1v1h-1zM53 614h1v1h-1zM281 614h1v1h-1zM298 614h1v1h-1zM316 614h1v1h-1zM330 614h1v1h-1zM345 614h1v1h-1zM442 614h1v1h-1zM720 614h1v1h-1zM727 614h1v1h-1zM765 614h1v1h-1zM792 614h3v1h-3zM796 614h1v1h-1zM811 614h1v1h-1zM866 614h1v1h-1zM869 614h1v1h-1zM908 614h1v1h-1zM921 614h1v1h-1zM939 614h1v1h-1zM971 614h1v1h-1zM974 614h2v1h-2zM1013 614h1v1h-1zM41 615h1v1h-1zM45 615h1v1h-1zM54 615h1v1h-1zM281 615h1v1h-1zM298 615h1v1h-1zM316 615h1v1h-1zM330 615h1v1h-1zM345 615h1v1h-1zM442 615h1v1h-1zM720 615h1v1h-1zM727 615h1v1h-1zM765 615h1v1h-1zM795 615h1v1h-1zM811 615h1v1h-1zM866 615h1v1h-1zM869 615h1v1h-1zM908 615h1v1h-1zM921 615h1v1h-1zM931 615h9v1h-9zM971 615h1v1h-1zM973 615h1v1h-1zM1013 615h1v1h-1zM42 616h1v1h-1zM45 616h1v1h-1zM54 616h1v1h-1zM281 616h1v1h-1zM298 616h1v1h-1zM316 616h1v1h-1zM331 616h1v1h-1zM344 616h1v1h-1zM442 616h1v1h-1zM720 616h1v1h-1zM728 616h1v1h-1zM743 616h9v1h-9zM764 616h1v1h-1zM811 616h1v1h-1zM865 616h1v1h-1zM869 616h1v1h-1zM907 616h1v1h-1zM922 616h1v1h-1zM929 616h2v1h-2zM971 616h2v1h-2zM1013 616h1v1h-1zM42 617h1v1h-1zM45 617h1v1h-1zM54 617h1v1h-1zM281 617h1v1h-1zM299 617h1v1h-1zM315 617h1v1h-1zM331 617h1v1h-1zM343 617h1v1h-1zM443 617h1v1h-1zM719 617h1v1h-1zM728 617h1v1h-1zM739 617h4v1h-4zM752 617h5v1h-5zM764 617h1v1h-1zM812 617h1v1h-1zM865 617h1v1h-1zM870 617h1v1h-1zM907 617h1v1h-1zM922 617h1v1h-1zM928 617h1v1h-1zM971 617h1v1h-1zM1014 617h1v1h-1zM42 618h1v1h-1zM45 618h1v1h-1zM54 618h1v1h-1zM280 618h1v1h-1zM300 618h2v1h-2zM315 618h1v1h-1zM332 618h1v1h-1zM343 618h1v1h-1zM443 618h1v1h-1zM719 618h1v1h-1zM728 618h1v1h-1zM738 618h1v1h-1zM757 618h5v1h-5zM763 618h1v1h-1zM812 618h1v1h-1zM865 618h1v1h-1zM870 618h1v1h-1zM906 618h1v1h-1zM922 618h1v1h-1zM927 618h1v1h-1zM1014 618h1v1h-1zM42 619h1v1h-1zM44 619h1v1h-1zM54 619h1v1h-1zM280 619h1v1h-1zM302 619h1v1h-1zM313 619h2v1h-2zM333 619h1v1h-1zM342 619h1v1h-1zM444 619h1v1h-1zM719 619h1v1h-1zM729 619h1v1h-1zM737 619h1v1h-1zM762 619h2v1h-2zM812 619h1v1h-1zM864 619h1v1h-1zM871 619h1v1h-1zM905 619h1v1h-1zM922 619h1v1h-1zM926 619h1v1h-1zM1015 619h1v1h-1zM42 620h1v1h-1zM44 620h1v1h-1zM54 620h1v1h-1zM280 620h1v1h-1zM303 620h1v1h-1zM311 620h2v1h-2zM334 620h2v1h-2zM341 620h1v1h-1zM445 620h1v1h-1zM719 620h1v1h-1zM729 620h1v1h-1zM735 620h2v1h-2zM812 620h1v1h-1zM864 620h1v1h-1zM871 620h1v1h-1zM904 620h1v1h-1zM923 620h3v1h-3zM1015 620h1v1h-1zM42 621h1v1h-1zM44 621h1v1h-1zM54 621h1v1h-1zM280 621h1v1h-1zM304 621h1v1h-1zM310 621h1v1h-1zM336 621h1v1h-1zM341 621h1v1h-1zM446 621h1v1h-1zM718 621h1v1h-1zM730 621h1v1h-1zM734 621h1v1h-1zM812 621h1v1h-1zM864 621h1v1h-1zM871 621h1v1h-1zM903 621h1v1h-1zM923 621h1v1h-1zM1015 621h1v1h-1zM1307 621h2v1h-2zM42 622h1v1h-1zM44 622h1v1h-1zM54 622h1v1h-1zM280 622h1v1h-1zM305 622h2v1h-2zM308 622h2v1h-2zM337 622h1v1h-1zM340 622h1v1h-1zM447 622h1v1h-1zM718 622h1v1h-1zM730 622h1v1h-1zM733 622h1v1h-1zM813 622h1v1h-1zM863 622h1v1h-1zM872 622h1v1h-1zM902 622h1v1h-1zM1016 622h1v1h-1zM1306 622h1v1h-1zM1309 622h5v1h-5zM42 623h1v1h-1zM44 623h1v1h-1zM54 623h1v1h-1zM279 623h1v1h-1zM307 623h1v1h-1zM338 623h1v1h-1zM340 623h1v1h-1zM448 623h1v1h-1zM718 623h1v1h-1zM731 623h2v1h-2zM813 623h1v1h-1zM863 623h1v1h-1zM872 623h1v1h-1zM901 623h1v1h-1zM1016 623h1v1h-1zM1306 623h1v1h-1zM1314 623h2v1h-2zM43 624h2v1h-2zM54 624h1v1h-1zM279 624h1v1h-1zM339 624h1v1h-1zM449 624h1v1h-1zM717 624h1v1h-1zM731 624h1v1h-1zM813 624h1v1h-1zM863 624h1v1h-1zM873 624h1v1h-1zM900 624h1v1h-1zM1017 624h1v1h-1zM1305 624h1v1h-1zM1316 624h2v1h-2zM43 625h1v1h-1zM54 625h1v1h-1zM279 625h1v1h-1zM450 625h1v1h-1zM717 625h1v1h-1zM813 625h1v1h-1zM863 625h1v1h-1zM873 625h1v1h-1zM883 625h1v1h-1zM899 625h1v1h-1zM1017 625h1v1h-1zM1304 625h1v1h-1zM1318 625h1v1h-1zM43 626h1v1h-1zM54 626h1v1h-1zM279 626h1v1h-1zM451 626h2v1h-2zM717 626h1v1h-1zM813 626h1v1h-1zM862 626h1v1h-1zM873 626h1v1h-1zM881 626h2v1h-2zM884 626h3v1h-3zM896 626h3v1h-3zM1017 626h1v1h-1zM1259 626h2v1h-2zM1303 626h1v1h-1zM1319 626h2v1h-2zM43 627h1v1h-1zM54 627h1v1h-1zM279 627h1v1h-1zM453 627h1v1h-1zM716 627h1v1h-1zM813 627h1v1h-1zM862 627h1v1h-1zM874 627h1v1h-1zM880 627h1v1h-1zM887 627h1v1h-1zM895 627h1v1h-1zM1018 627h1v1h-1zM1258 627h1v1h-1zM1261 627h1v1h-1zM1303 627h1v1h-1zM1321 627h2v1h-2zM55 628h1v1h-1zM278 628h1v1h-1zM454 628h3v1h-3zM716 628h1v1h-1zM814 628h1v1h-1zM862 628h1v1h-1zM874 628h1v1h-1zM878 628h2v1h-2zM888 628h3v1h-3zM892 628h3v1h-3zM1018 628h1v1h-1zM1256 628h2v1h-2zM1262 628h3v1h-3zM1302 628h1v1h-1zM1323 628h9v1h-9zM55 629h1v1h-1zM278 629h1v1h-1zM457 629h1v1h-1zM716 629h1v1h-1zM814 629h1v1h-1zM861 629h1v1h-1zM875 629h3v1h-3zM891 629h1v1h-1zM1019 629h1v1h-1zM1255 629h1v1h-1zM1265 629h1v1h-1zM1283 629h1v1h-1zM1301 629h1v1h-1zM55 630h1v1h-1zM267 630h1v1h-1zM278 630h1v1h-1zM458 630h2v1h-2zM716 630h1v1h-1zM814 630h1v1h-1zM861 630h1v1h-1zM875 630h1v1h-1zM1019 630h2v1h-2zM1253 630h2v1h-2zM1266 630h2v1h-2zM1282 630h1v1h-1zM1284 630h1v1h-1zM1300 630h1v1h-1zM55 631h1v1h-1zM266 631h1v1h-1zM268 631h1v1h-1zM278 631h1v1h-1zM460 631h1v1h-1zM715 631h1v1h-1zM814 631h1v1h-1zM861 631h1v1h-1zM1021 631h1v1h-1zM1131 631h1v1h-1zM1252 631h1v1h-1zM1268 631h1v1h-1zM1281 631h1v1h-1zM1285 631h1v1h-1zM1300 631h1v1h-1zM55 632h1v1h-1zM251 632h2v1h-2zM264 632h2v1h-2zM268 632h1v1h-1zM278 632h1v1h-1zM461 632h2v1h-2zM715 632h1v1h-1zM814 632h1v1h-1zM860 632h1v1h-1zM1022 632h3v1h-3zM1099 632h1v1h-1zM1129 632h3v1h-3zM1251 632h1v1h-1zM1269 632h1v1h-1zM1280 632h1v1h-1zM1286 632h2v1h-2zM1298 632h2v1h-2zM55 633h1v1h-1zM251 633h1v1h-1zM253 633h1v1h-1zM263 633h1v1h-1zM269 633h1v1h-1zM277 633h1v1h-1zM463 633h1v1h-1zM715 633h1v1h-1zM815 633h1v1h-1zM860 633h1v1h-1zM1025 633h1v1h-1zM1098 633h2v1h-2zM1128 633h1v1h-1zM1132 633h1v1h-1zM1250 633h1v1h-1zM1270 633h1v1h-1zM1279 633h1v1h-1zM1288 633h1v1h-1zM1297 633h1v1h-1zM55 634h1v1h-1zM251 634h1v1h-1zM254 634h3v1h-3zM261 634h2v1h-2zM269 634h1v1h-1zM277 634h1v1h-1zM464 634h2v1h-2zM714 634h1v1h-1zM815 634h1v1h-1zM860 634h1v1h-1zM1026 634h3v1h-3zM1097 634h1v1h-1zM1100 634h1v1h-1zM1127 634h1v1h-1zM1132 634h1v1h-1zM1250 634h1v1h-1zM1271 634h2v1h-2zM1278 634h1v1h-1zM1289 634h1v1h-1zM1294 634h3v1h-3zM55 635h1v1h-1zM250 635h1v1h-1zM257 635h1v1h-1zM260 635h1v1h-1zM270 635h1v1h-1zM277 635h1v1h-1zM466 635h1v1h-1zM714 635h1v1h-1zM815 635h1v1h-1zM860 635h1v1h-1zM1029 635h1v1h-1zM1096 635h1v1h-1zM1100 635h1v1h-1zM1126 635h1v1h-1zM1132 635h1v1h-1zM1250 635h1v1h-1zM1273 635h1v1h-1zM1277 635h1v1h-1zM1290 635h1v1h-1zM1293 635h1v1h-1zM55 636h1v1h-1zM250 636h1v1h-1zM258 636h2v1h-2zM270 636h1v1h-1zM277 636h1v1h-1zM467 636h1v1h-1zM714 636h1v1h-1zM815 636h1v1h-1zM834 636h2v1h-2zM859 636h1v1h-1zM1030 636h3v1h-3zM1095 636h1v1h-1zM1100 636h1v1h-1zM1124 636h2v1h-2zM1133 636h1v1h-1zM1215 636h5v1h-5zM1249 636h1v1h-1zM1274 636h1v1h-1zM1276 636h1v1h-1zM1291 636h2v1h-2zM55 637h1v1h-1zM250 637h1v1h-1zM271 637h1v1h-1zM277 637h1v1h-1zM468 637h1v1h-1zM713 637h1v1h-1zM815 637h1v1h-1zM833 637h1v1h-1zM836 637h1v1h-1zM859 637h1v1h-1zM1033 637h1v1h-1zM1094 637h1v1h-1zM1100 637h1v1h-1zM1123 637h1v1h-1zM1133 637h1v1h-1zM1211 637h4v1h-4zM1220 637h1v1h-1zM1248 637h1v1h-1zM1275 637h1v1h-1zM55 638h1v1h-1zM250 638h1v1h-1zM271 638h1v1h-1zM276 638h1v1h-1zM468 638h1v1h-1zM713 638h1v1h-1zM816 638h1v1h-1zM830 638h3v1h-3zM837 638h1v1h-1zM856 638h3v1h-3zM1034 638h3v1h-3zM1093 638h1v1h-1zM1101 638h1v1h-1zM1120 638h3v1h-3zM1133 638h1v1h-1zM1211 638h1v1h-1zM1221 638h2v1h-2zM1248 638h1v1h-1zM55 639h1v1h-1zM249 639h1v1h-1zM272 639h1v1h-1zM276 639h1v1h-1zM469 639h1v1h-1zM713 639h1v1h-1zM816 639h1v1h-1zM829 639h1v1h-1zM837 639h1v1h-1zM855 639h1v1h-1zM1037 639h2v1h-2zM1075 639h4v1h-4zM1092 639h1v1h-1zM1101 639h1v1h-1zM1119 639h1v1h-1zM1134 639h1v1h-1zM1211 639h1v1h-1zM1223 639h1v1h-1zM1248 639h1v1h-1zM56 640h1v1h-1zM249 640h1v1h-1zM272 640h1v1h-1zM276 640h1v1h-1zM469 640h1v1h-1zM712 640h1v1h-1zM816 640h1v1h-1zM827 640h2v1h-2zM838 640h1v1h-1zM852 640h3v1h-3zM1039 640h3v1h-3zM1074 640h1v1h-1zM1079 640h13v1h-13zM1101 640h1v1h-1zM1116 640h3v1h-3zM1134 640h1v1h-1zM1210 640h1v1h-1zM1224 640h2v1h-2zM1247 640h1v1h-1zM56 641h1v1h-1zM249 641h1v1h-1zM273 641h1v1h-1zM276 641h1v1h-1zM470 641h1v1h-1zM611 641h1v1h-1zM712 641h1v1h-1zM816 641h1v1h-1zM826 641h1v1h-1zM839 641h1v1h-1zM851 641h1v1h-1zM1042 641h2v1h-2zM1073 641h1v1h-1zM1102 641h1v1h-1zM1115 641h1v1h-1zM1134 641h1v1h-1zM1210 641h1v1h-1zM1226 641h1v1h-1zM1246 641h1v1h-1zM56 642h1v1h-1zM170 642h2v1h-2zM249 642h1v1h-1zM273 642h1v1h-1zM276 642h1v1h-1zM470 642h1v1h-1zM608 642h4v1h-4zM712 642h1v1h-1zM816 642h1v1h-1zM826 642h1v1h-1zM840 642h1v1h-1zM849 642h2v1h-2zM1043 642h1v1h-1zM1072 642h1v1h-1zM1102 642h1v1h-1zM1115 642h1v1h-1zM1135 642h1v1h-1zM1210 642h1v1h-1zM1227 642h1v1h-1zM1246 642h1v1h-1zM56 643h1v1h-1zM168 643h2v1h-2zM172 643h2v1h-2zM248 643h1v1h-1zM274 643h2v1h-2zM471 643h1v1h-1zM594 643h3v1h-3zM607 643h1v1h-1zM611 643h1v1h-1zM711 643h1v1h-1zM817 643h1v1h-1zM826 643h1v1h-1zM841 643h1v1h-1zM848 643h1v1h-1zM1044 643h1v1h-1zM1071 643h1v1h-1zM1102 643h1v1h-1zM1114 643h1v1h-1zM1135 643h1v1h-1zM1210 643h1v1h-1zM1227 643h1v1h-1zM1246 643h1v1h-1zM56 644h1v1h-1zM165 644h3v1h-3zM174 644h2v1h-2zM248 644h1v1h-1zM274 644h2v1h-2zM472 644h1v1h-1zM591 644h3v1h-3zM597 644h5v1h-5zM604 644h3v1h-3zM611 644h1v1h-1zM711 644h1v1h-1zM817 644h1v1h-1zM825 644h1v1h-1zM841 644h1v1h-1zM846 644h2v1h-2zM1044 644h1v1h-1zM1070 644h1v1h-1zM1103 644h1v1h-1zM1114 644h1v1h-1zM1136 644h1v1h-1zM1210 644h1v1h-1zM1228 644h1v1h-1zM1245 644h1v1h-1zM56 645h1v1h-1zM163 645h2v1h-2zM176 645h1v1h-1zM248 645h1v1h-1zM275 645h1v1h-1zM472 645h1v1h-1zM571 645h1v1h-1zM589 645h2v1h-2zM602 645h2v1h-2zM611 645h1v1h-1zM711 645h1v1h-1zM817 645h1v1h-1zM824 645h1v1h-1zM842 645h1v1h-1zM844 645h2v1h-2zM1044 645h1v1h-1zM1069 645h1v1h-1zM1103 645h1v1h-1zM1113 645h1v1h-1zM1136 645h1v1h-1zM1210 645h1v1h-1zM1228 645h1v1h-1zM1244 645h1v1h-1zM56 646h1v1h-1zM163 646h1v1h-1zM177 646h2v1h-2zM248 646h1v1h-1zM473 646h1v1h-1zM570 646h2v1h-2zM587 646h2v1h-2zM612 646h1v1h-1zM711 646h1v1h-1zM817 646h1v1h-1zM824 646h1v1h-1zM843 646h1v1h-1zM1045 646h1v1h-1zM1068 646h1v1h-1zM1103 646h1v1h-1zM1113 646h1v1h-1zM1136 646h1v1h-1zM1209 646h1v1h-1zM1228 646h1v1h-1zM1244 646h1v1h-1zM56 647h1v1h-1zM163 647h1v1h-1zM179 647h1v1h-1zM247 647h1v1h-1zM473 647h1v1h-1zM555 647h1v1h-1zM570 647h1v1h-1zM572 647h1v1h-1zM586 647h1v1h-1zM612 647h1v1h-1zM710 647h1v1h-1zM817 647h1v1h-1zM824 647h1v1h-1zM1045 647h1v1h-1zM1067 647h1v1h-1zM1103 647h1v1h-1zM1112 647h1v1h-1zM1137 647h1v1h-1zM1209 647h1v1h-1zM1229 647h1v1h-1zM1244 647h1v1h-1zM56 648h1v1h-1zM162 648h1v1h-1zM180 648h1v1h-1zM247 648h1v1h-1zM474 648h1v1h-1zM498 648h2v1h-2zM552 648h3v1h-3zM556 648h1v1h-1zM569 648h1v1h-1zM572 648h1v1h-1zM586 648h1v1h-1zM612 648h1v1h-1zM695 648h5v1h-5zM710 648h1v1h-1zM817 648h1v1h-1zM823 648h1v1h-1zM1046 648h1v1h-1zM1066 648h1v1h-1zM1104 648h1v1h-1zM1112 648h1v1h-1zM1137 648h1v1h-1zM1209 648h1v1h-1zM1229 648h1v1h-1zM1243 648h1v1h-1zM56 649h1v1h-1zM162 649h1v1h-1zM181 649h1v1h-1zM203 649h2v1h-2zM247 649h1v1h-1zM474 649h1v1h-1zM496 649h2v1h-2zM500 649h1v1h-1zM551 649h1v1h-1zM557 649h1v1h-1zM568 649h1v1h-1zM573 649h1v1h-1zM586 649h1v1h-1zM612 649h1v1h-1zM691 649h4v1h-4zM700 649h1v1h-1zM710 649h1v1h-1zM818 649h1v1h-1zM822 649h1v1h-1zM1046 649h1v1h-1zM1065 649h1v1h-1zM1104 649h1v1h-1zM1111 649h1v1h-1zM1137 649h1v1h-1zM1209 649h1v1h-1zM1230 649h1v1h-1zM1242 649h1v1h-1zM56 650h1v1h-1zM115 650h1v1h-1zM139 650h1v1h-1zM162 650h1v1h-1zM181 650h1v1h-1zM203 650h1v1h-1zM205 650h3v1h-3zM217 650h3v1h-3zM247 650h1v1h-1zM475 650h1v1h-1zM493 650h3v1h-3zM500 650h1v1h-1zM548 650h3v1h-3zM558 650h1v1h-1zM567 650h1v1h-1zM573 650h1v1h-1zM585 650h1v1h-1zM612 650h1v1h-1zM689 650h2v1h-2zM701 650h1v1h-1zM709 650h1v1h-1zM818 650h1v1h-1zM822 650h1v1h-1zM1046 650h1v1h-1zM1064 650h1v1h-1zM1104 650h1v1h-1zM1111 650h1v1h-1zM1138 650h1v1h-1zM1209 650h1v1h-1zM1230 650h1v1h-1zM1242 650h1v1h-1zM56 651h1v1h-1zM114 651h1v1h-1zM116 651h1v1h-1zM139 651h1v1h-1zM162 651h1v1h-1zM182 651h1v1h-1zM202 651h1v1h-1zM208 651h2v1h-2zM214 651h3v1h-3zM219 651h1v1h-1zM247 651h1v1h-1zM476 651h1v1h-1zM491 651h2v1h-2zM501 651h1v1h-1zM544 651h4v1h-4zM559 651h1v1h-1zM567 651h1v1h-1zM574 651h1v1h-1zM584 651h1v1h-1zM612 651h1v1h-1zM688 651h1v1h-1zM702 651h1v1h-1zM709 651h1v1h-1zM818 651h1v1h-1zM822 651h1v1h-1zM1047 651h1v1h-1zM1063 651h1v1h-1zM1105 651h1v1h-1zM1111 651h1v1h-1zM1138 651h1v1h-1zM1208 651h1v1h-1zM1230 651h1v1h-1zM1242 651h1v1h-1zM56 652h1v1h-1zM114 652h1v1h-1zM117 652h2v1h-2zM139 652h1v1h-1zM161 652h1v1h-1zM183 652h1v1h-1zM202 652h1v1h-1zM210 652h4v1h-4zM220 652h1v1h-1zM246 652h1v1h-1zM476 652h1v1h-1zM490 652h1v1h-1zM502 652h1v1h-1zM539 652h5v1h-5zM559 652h1v1h-1zM566 652h1v1h-1zM574 652h1v1h-1zM584 652h1v1h-1zM612 652h1v1h-1zM650 652h2v1h-2zM687 652h1v1h-1zM703 652h1v1h-1zM709 652h1v1h-1zM818 652h1v1h-1zM821 652h1v1h-1zM1047 652h1v1h-1zM1062 652h1v1h-1zM1105 652h1v1h-1zM1110 652h1v1h-1zM1138 652h1v1h-1zM1208 652h1v1h-1zM1231 652h1v1h-1zM1241 652h1v1h-1zM57 653h1v1h-1zM113 653h1v1h-1zM119 653h1v1h-1zM139 653h2v1h-2zM161 653h1v1h-1zM184 653h1v1h-1zM202 653h1v1h-1zM220 653h1v1h-1zM246 653h1v1h-1zM477 653h1v1h-1zM490 653h1v1h-1zM503 653h1v1h-1zM539 653h1v1h-1zM560 653h1v1h-1zM565 653h1v1h-1zM575 653h1v1h-1zM584 653h1v1h-1zM612 653h1v1h-1zM649 653h1v1h-1zM652 653h1v1h-1zM686 653h1v1h-1zM703 653h1v1h-1zM708 653h1v1h-1zM818 653h1v1h-1zM820 653h1v1h-1zM1047 653h1v1h-1zM1061 653h1v1h-1zM1105 653h1v1h-1zM1110 653h1v1h-1zM1139 653h1v1h-1zM1208 653h1v1h-1zM1231 653h1v1h-1zM1240 653h1v1h-1zM57 654h1v1h-1zM113 654h1v1h-1zM120 654h2v1h-2zM138 654h1v1h-1zM140 654h1v1h-1zM161 654h1v1h-1zM185 654h1v1h-1zM201 654h1v1h-1zM221 654h1v1h-1zM246 654h1v1h-1zM477 654h1v1h-1zM489 654h1v1h-1zM503 654h1v1h-1zM538 654h1v1h-1zM561 654h1v1h-1zM564 654h1v1h-1zM575 654h1v1h-1zM583 654h1v1h-1zM613 654h1v1h-1zM635 654h3v1h-3zM646 654h3v1h-3zM652 654h1v1h-1zM684 654h2v1h-2zM704 654h1v1h-1zM708 654h1v1h-1zM819 654h2v1h-2zM1048 654h1v1h-1zM1060 654h1v1h-1zM1106 654h1v1h-1zM1109 654h1v1h-1zM1139 654h1v1h-1zM1171 654h3v1h-3zM1208 654h1v1h-1zM1231 654h1v1h-1zM1240 654h1v1h-1zM57 655h1v1h-1zM112 655h1v1h-1zM122 655h1v1h-1zM138 655h1v1h-1zM140 655h1v1h-1zM161 655h1v1h-1zM185 655h1v1h-1zM201 655h1v1h-1zM221 655h1v1h-1zM246 655h1v1h-1zM478 655h1v1h-1zM489 655h1v1h-1zM504 655h1v1h-1zM538 655h1v1h-1zM562 655h1v1h-1zM564 655h1v1h-1zM576 655h1v1h-1zM582 655h1v1h-1zM613 655h1v1h-1zM635 655h1v1h-1zM638 655h3v1h-3zM645 655h1v1h-1zM653 655h1v1h-1zM683 655h1v1h-1zM705 655h1v1h-1zM708 655h1v1h-1zM819 655h2v1h-2zM1048 655h1v1h-1zM1059 655h1v1h-1zM1106 655h1v1h-1zM1109 655h1v1h-1zM1140 655h1v1h-1zM1170 655h1v1h-1zM1174 655h3v1h-3zM1208 655h1v1h-1zM1232 655h1v1h-1zM1240 655h1v1h-1zM57 656h1v1h-1zM112 656h1v1h-1zM123 656h1v1h-1zM138 656h1v1h-1zM140 656h1v1h-1zM161 656h1v1h-1zM186 656h1v1h-1zM201 656h1v1h-1zM222 656h1v1h-1zM245 656h1v1h-1zM478 656h1v1h-1zM488 656h1v1h-1zM505 656h1v1h-1zM538 656h1v1h-1zM563 656h1v1h-1zM576 656h1v1h-1zM582 656h1v1h-1zM613 656h1v1h-1zM634 656h1v1h-1zM641 656h4v1h-4zM653 656h1v1h-1zM683 656h1v1h-1zM706 656h2v1h-2zM819 656h1v1h-1zM1048 656h1v1h-1zM1058 656h1v1h-1zM1106 656h1v1h-1zM1108 656h1v1h-1zM1140 656h1v1h-1zM1169 656h1v1h-1zM1177 656h3v1h-3zM1207 656h1v1h-1zM1232 656h1v1h-1zM1239 656h1v1h-1zM57 657h1v1h-1zM111 657h1v1h-1zM123 657h1v1h-1zM138 657h1v1h-1zM140 657h1v1h-1zM160 657h1v1h-1zM187 657h1v1h-1zM200 657h1v1h-1zM222 657h1v1h-1zM245 657h1v1h-1zM479 657h1v1h-1zM487 657h1v1h-1zM506 657h1v1h-1zM538 657h1v1h-1zM577 657h1v1h-1zM582 657h1v1h-1zM613 657h1v1h-1zM634 657h1v1h-1zM654 657h1v1h-1zM683 657h1v1h-1zM707 657h1v1h-1zM1049 657h1v1h-1zM1057 657h1v1h-1zM1106 657h1v1h-1zM1108 657h1v1h-1zM1141 657h1v1h-1zM1168 657h1v1h-1zM1180 657h2v1h-2zM1207 657h1v1h-1zM1232 657h1v1h-1zM1238 657h1v1h-1zM57 658h1v1h-1zM110 658h1v1h-1zM123 658h1v1h-1zM138 658h1v1h-1zM141 658h1v1h-1zM160 658h1v1h-1zM187 658h1v1h-1zM200 658h1v1h-1zM222 658h1v1h-1zM245 658h1v1h-1zM480 658h1v1h-1zM487 658h1v1h-1zM506 658h1v1h-1zM537 658h1v1h-1zM577 658h1v1h-1zM581 658h1v1h-1zM613 658h1v1h-1zM634 658h1v1h-1zM654 658h1v1h-1zM682 658h1v1h-1zM1049 658h1v1h-1zM1056 658h1v1h-1zM1107 658h1v1h-1zM1141 658h1v1h-1zM1167 658h1v1h-1zM1182 658h2v1h-2zM1207 658h1v1h-1zM1233 658h1v1h-1zM1238 658h1v1h-1zM57 659h1v1h-1zM110 659h1v1h-1zM124 659h1v1h-1zM138 659h1v1h-1zM141 659h1v1h-1zM160 659h1v1h-1zM188 659h1v1h-1zM200 659h1v1h-1zM223 659h1v1h-1zM245 659h1v1h-1zM480 659h1v1h-1zM486 659h1v1h-1zM507 659h1v1h-1zM537 659h1v1h-1zM578 659h1v1h-1zM580 659h1v1h-1zM613 659h1v1h-1zM634 659h1v1h-1zM655 659h1v1h-1zM682 659h1v1h-1zM1050 659h1v1h-1zM1055 659h1v1h-1zM1107 659h1v1h-1zM1142 659h1v1h-1zM1167 659h1v1h-1zM1184 659h1v1h-1zM1207 659h1v1h-1zM1233 659h1v1h-1zM1238 659h1v1h-1zM57 660h1v1h-1zM109 660h1v1h-1zM124 660h1v1h-1zM137 660h1v1h-1zM141 660h1v1h-1zM160 660h1v1h-1zM188 660h1v1h-1zM199 660h1v1h-1zM223 660h1v1h-1zM235 660h1v1h-1zM244 660h1v1h-1zM481 660h1v1h-1zM485 660h1v1h-1zM508 660h1v1h-1zM537 660h1v1h-1zM578 660h1v1h-1zM580 660h1v1h-1zM613 660h1v1h-1zM633 660h1v1h-1zM656 660h1v1h-1zM682 660h1v1h-1zM1050 660h1v1h-1zM1054 660h1v1h-1zM1143 660h1v1h-1zM1166 660h1v1h-1zM1185 660h2v1h-2zM1207 660h1v1h-1zM1234 660h1v1h-1zM1237 660h1v1h-1zM57 661h1v1h-1zM109 661h1v1h-1zM124 661h1v1h-1zM137 661h1v1h-1zM141 661h1v1h-1zM159 661h1v1h-1zM189 661h1v1h-1zM199 661h1v1h-1zM224 661h1v1h-1zM234 661h1v1h-1zM236 661h1v1h-1zM244 661h1v1h-1zM481 661h1v1h-1zM485 661h1v1h-1zM509 661h1v1h-1zM537 661h1v1h-1zM579 661h2v1h-2zM613 661h1v1h-1zM633 661h1v1h-1zM656 661h1v1h-1zM682 661h1v1h-1zM1050 661h1v1h-1zM1053 661h1v1h-1zM1143 661h1v1h-1zM1165 661h1v1h-1zM1187 661h2v1h-2zM1207 661h1v1h-1zM1234 661h1v1h-1zM1236 661h1v1h-1zM57 662h1v1h-1zM108 662h1v1h-1zM124 662h1v1h-1zM137 662h1v1h-1zM141 662h1v1h-1zM159 662h1v1h-1zM189 662h1v1h-1zM199 662h1v1h-1zM224 662h1v1h-1zM233 662h1v1h-1zM237 662h2v1h-2zM244 662h1v1h-1zM482 662h1v1h-1zM484 662h1v1h-1zM510 662h1v1h-1zM536 662h1v1h-1zM579 662h1v1h-1zM614 662h1v1h-1zM633 662h1v1h-1zM657 662h1v1h-1zM682 662h1v1h-1zM1051 662h2v1h-2zM1144 662h1v1h-1zM1164 662h1v1h-1zM1189 662h3v1h-3zM1206 662h1v1h-1zM1234 662h1v1h-1zM1236 662h1v1h-1zM57 663h1v1h-1zM108 663h1v1h-1zM124 663h1v1h-1zM137 663h1v1h-1zM142 663h1v1h-1zM159 663h1v1h-1zM190 663h1v1h-1zM199 663h1v1h-1zM224 663h1v1h-1zM232 663h1v1h-1zM239 663h1v1h-1zM244 663h1v1h-1zM482 663h1v1h-1zM484 663h1v1h-1zM511 663h1v1h-1zM536 663h1v1h-1zM614 663h1v1h-1zM633 663h1v1h-1zM657 663h1v1h-1zM682 663h1v1h-1zM1051 663h1v1h-1zM1145 663h1v1h-1zM1163 663h1v1h-1zM1192 663h2v1h-2zM1206 663h1v1h-1zM1235 663h2v1h-2zM57 664h1v1h-1zM75 664h1v1h-1zM107 664h1v1h-1zM124 664h1v1h-1zM137 664h1v1h-1zM142 664h1v1h-1zM159 664h1v1h-1zM190 664h1v1h-1zM198 664h1v1h-1zM225 664h1v1h-1zM231 664h1v1h-1zM240 664h2v1h-2zM243 664h1v1h-1zM483 664h1v1h-1zM511 664h1v1h-1zM536 664h1v1h-1zM614 664h1v1h-1zM632 664h1v1h-1zM658 664h1v1h-1zM681 664h1v1h-1zM1145 664h1v1h-1zM1162 664h1v1h-1zM1194 664h2v1h-2zM1206 664h1v1h-1zM1235 664h1v1h-1zM57 665h1v1h-1zM75 665h2v1h-2zM107 665h1v1h-1zM125 665h1v1h-1zM137 665h1v1h-1zM142 665h1v1h-1zM159 665h1v1h-1zM191 665h1v1h-1zM198 665h1v1h-1zM225 665h1v1h-1zM231 665h1v1h-1zM242 665h2v1h-2zM512 665h1v1h-1zM536 665h1v1h-1zM614 665h1v1h-1zM632 665h1v1h-1zM658 665h1v1h-1zM681 665h1v1h-1zM1146 665h1v1h-1zM1161 665h1v1h-1zM1196 665h1v1h-1zM1206 665h1v1h-1zM58 666h1v1h-1zM74 666h1v1h-1zM77 666h1v1h-1zM107 666h1v1h-1zM125 666h1v1h-1zM136 666h1v1h-1zM142 666h1v1h-1zM158 666h1v1h-1zM191 666h1v1h-1zM198 666h1v1h-1zM226 666h1v1h-1zM230 666h1v1h-1zM243 666h1v1h-1zM513 666h1v1h-1zM535 666h1v1h-1zM614 666h1v1h-1zM632 666h1v1h-1zM659 666h1v1h-1zM681 666h1v1h-1zM1146 666h1v1h-1zM1161 666h1v1h-1zM1196 666h1v1h-1zM1206 666h1v1h-1zM58 667h1v1h-1zM74 667h1v1h-1zM78 667h1v1h-1zM107 667h1v1h-1zM125 667h1v1h-1zM136 667h1v1h-1zM142 667h1v1h-1zM158 667h1v1h-1zM192 667h1v1h-1zM197 667h1v1h-1zM226 667h1v1h-1zM229 667h1v1h-1zM514 667h1v1h-1zM535 667h1v1h-1zM614 667h1v1h-1zM632 667h1v1h-1zM660 667h1v1h-1zM681 667h1v1h-1zM1147 667h1v1h-1zM1160 667h1v1h-1zM1196 667h1v1h-1zM1205 667h1v1h-1zM58 668h1v1h-1zM74 668h1v1h-1zM79 668h1v1h-1zM106 668h1v1h-1zM125 668h1v1h-1zM136 668h1v1h-1zM143 668h1v1h-1zM158 668h1v1h-1zM192 668h1v1h-1zM197 668h1v1h-1zM227 668h2v1h-2zM515 668h1v1h-1zM535 668h1v1h-1zM614 668h1v1h-1zM631 668h1v1h-1zM660 668h1v1h-1zM681 668h1v1h-1zM1148 668h2v1h-2zM1159 668h1v1h-1zM1197 668h1v1h-1zM1205 668h1v1h-1zM58 669h1v1h-1zM73 669h1v1h-1zM79 669h1v1h-1zM106 669h1v1h-1zM125 669h1v1h-1zM136 669h1v1h-1zM143 669h1v1h-1zM158 669h1v1h-1zM193 669h1v1h-1zM197 669h1v1h-1zM227 669h1v1h-1zM516 669h2v1h-2zM535 669h1v1h-1zM614 669h1v1h-1zM631 669h1v1h-1zM661 669h1v1h-1zM681 669h1v1h-1zM1150 669h1v1h-1zM1158 669h1v1h-1zM1198 669h1v1h-1zM1205 669h1v1h-1zM58 670h1v1h-1zM73 670h1v1h-1zM80 670h1v1h-1zM106 670h1v1h-1zM126 670h1v1h-1zM136 670h1v1h-1zM143 670h1v1h-1zM157 670h1v1h-1zM193 670h1v1h-1zM196 670h1v1h-1zM518 670h2v1h-2zM534 670h1v1h-1zM614 670h1v1h-1zM631 670h1v1h-1zM661 670h1v1h-1zM680 670h1v1h-1zM1151 670h1v1h-1zM1157 670h1v1h-1zM1198 670h1v1h-1zM1205 670h1v1h-1zM58 671h1v1h-1zM73 671h1v1h-1zM81 671h1v1h-1zM106 671h1v1h-1zM126 671h1v1h-1zM136 671h1v1h-1zM143 671h1v1h-1zM157 671h1v1h-1zM194 671h1v1h-1zM196 671h1v1h-1zM520 671h1v1h-1zM534 671h1v1h-1zM615 671h1v1h-1zM631 671h1v1h-1zM662 671h1v1h-1zM680 671h1v1h-1zM1152 671h1v1h-1zM1157 671h1v1h-1zM1198 671h1v1h-1zM1205 671h1v1h-1zM58 672h1v1h-1zM72 672h1v1h-1zM82 672h1v1h-1zM106 672h1v1h-1zM126 672h1v1h-1zM135 672h1v1h-1zM143 672h1v1h-1zM157 672h1v1h-1zM194 672h1v1h-1zM196 672h1v1h-1zM521 672h2v1h-2zM534 672h1v1h-1zM615 672h1v1h-1zM630 672h1v1h-1zM662 672h1v1h-1zM680 672h1v1h-1zM1153 672h2v1h-2zM1156 672h1v1h-1zM1199 672h1v1h-1zM1204 672h1v1h-1zM58 673h1v1h-1zM72 673h1v1h-1zM83 673h1v1h-1zM106 673h1v1h-1zM126 673h1v1h-1zM135 673h1v1h-1zM144 673h1v1h-1zM157 673h1v1h-1zM195 673h1v1h-1zM523 673h1v1h-1zM534 673h1v1h-1zM615 673h1v1h-1zM630 673h1v1h-1zM663 673h1v1h-1zM680 673h1v1h-1zM1155 673h1v1h-1zM1200 673h1v1h-1zM1204 673h1v1h-1zM58 674h1v1h-1zM72 674h1v1h-1zM83 674h1v1h-1zM106 674h1v1h-1zM126 674h1v1h-1zM135 674h1v1h-1zM144 674h1v1h-1zM157 674h1v1h-1zM195 674h1v1h-1zM524 674h1v1h-1zM533 674h1v1h-1zM615 674h1v1h-1zM630 674h1v1h-1zM663 674h1v1h-1zM680 674h1v1h-1zM1200 674h1v1h-1zM1204 674h1v1h-1zM58 675h1v1h-1zM71 675h1v1h-1zM83 675h1v1h-1zM105 675h1v1h-1zM126 675h1v1h-1zM135 675h1v1h-1zM144 675h1v1h-1zM156 675h1v1h-1zM525 675h1v1h-1zM533 675h1v1h-1zM615 675h1v1h-1zM630 675h1v1h-1zM664 675h1v1h-1zM680 675h1v1h-1zM1200 675h1v1h-1zM1204 675h1v1h-1zM58 676h1v1h-1zM71 676h1v1h-1zM84 676h1v1h-1zM105 676h1v1h-1zM127 676h1v1h-1zM135 676h1v1h-1zM144 676h1v1h-1zM156 676h1v1h-1zM525 676h1v1h-1zM533 676h1v1h-1zM615 676h1v1h-1zM629 676h1v1h-1zM664 676h1v1h-1zM679 676h1v1h-1zM1201 676h1v1h-1zM1204 676h1v1h-1zM58 677h1v1h-1zM71 677h1v1h-1zM84 677h1v1h-1zM105 677h1v1h-1zM127 677h1v1h-1zM135 677h1v1h-1zM144 677h1v1h-1zM156 677h1v1h-1zM526 677h1v1h-1zM533 677h1v1h-1zM615 677h1v1h-1zM629 677h1v1h-1zM665 677h1v1h-1zM679 677h1v1h-1zM1202 677h1v1h-1zM1204 677h1v1h-1zM58 678h1v1h-1zM70 678h1v1h-1zM84 678h1v1h-1zM105 678h1v1h-1zM127 678h1v1h-1zM135 678h1v1h-1zM145 678h1v1h-1zM156 678h1v1h-1zM527 678h1v1h-1zM532 678h1v1h-1zM615 678h1v1h-1zM629 678h1v1h-1zM665 678h1v1h-1zM679 678h1v1h-1zM1202 678h2v1h-2zM59 679h1v1h-1zM70 679h1v1h-1zM84 679h1v1h-1zM105 679h1v1h-1zM127 679h1v1h-1zM134 679h1v1h-1zM145 679h1v1h-1zM155 679h1v1h-1zM528 679h1v1h-1zM532 679h1v1h-1zM616 679h1v1h-1zM629 679h1v1h-1zM666 679h1v1h-1zM679 679h1v1h-1zM1202 679h2v1h-2zM59 680h1v1h-1zM70 680h1v1h-1zM85 680h1v1h-1zM105 680h1v1h-1zM127 680h1v1h-1zM134 680h1v1h-1zM145 680h1v1h-1zM155 680h1v1h-1zM529 680h1v1h-1zM532 680h1v1h-1zM616 680h1v1h-1zM628 680h1v1h-1zM666 680h1v1h-1zM679 680h1v1h-1zM1203 680h1v1h-1zM59 681h1v1h-1zM69 681h1v1h-1zM85 681h1v1h-1zM105 681h1v1h-1zM128 681h1v1h-1zM134 681h1v1h-1zM145 681h1v1h-1zM155 681h1v1h-1zM529 681h1v1h-1zM532 681h1v1h-1zM616 681h1v1h-1zM628 681h1v1h-1zM667 681h1v1h-1zM679 681h1v1h-1zM59 682h1v1h-1zM69 682h1v1h-1zM85 682h1v1h-1zM104 682h1v1h-1zM128 682h1v1h-1zM134 682h1v1h-1zM145 682h1v1h-1zM154 682h1v1h-1zM530 682h2v1h-2zM616 682h1v1h-1zM628 682h1v1h-1zM667 682h1v1h-1zM678 682h1v1h-1zM59 683h1v1h-1zM69 683h1v1h-1zM85 683h1v1h-1zM104 683h1v1h-1zM128 683h1v1h-1zM134 683h1v1h-1zM146 683h1v1h-1zM153 683h1v1h-1zM531 683h1v1h-1zM616 683h1v1h-1zM628 683h1v1h-1zM668 683h1v1h-1zM678 683h1v1h-1zM59 684h1v1h-1zM68 684h1v1h-1zM85 684h1v1h-1zM104 684h1v1h-1zM128 684h1v1h-1zM134 684h1v1h-1zM146 684h1v1h-1zM152 684h1v1h-1zM616 684h1v1h-1zM627 684h1v1h-1zM668 684h1v1h-1zM678 684h1v1h-1zM59 685h2v1h-2zM68 685h1v1h-1zM86 685h1v1h-1zM104 685h1v1h-1zM128 685h1v1h-1zM133 685h1v1h-1zM146 685h1v1h-1zM151 685h1v1h-1zM616 685h1v1h-1zM627 685h1v1h-1zM669 685h1v1h-1zM678 685h1v1h-1zM61 686h3v1h-3zM68 686h1v1h-1zM86 686h1v1h-1zM104 686h1v1h-1zM128 686h1v1h-1zM133 686h1v1h-1zM146 686h1v1h-1zM151 686h1v1h-1zM616 686h1v1h-1zM627 686h1v1h-1zM669 686h1v1h-1zM678 686h1v1h-1zM64 687h2v1h-2zM67 687h1v1h-1zM86 687h1v1h-1zM104 687h1v1h-1zM129 687h1v1h-1zM133 687h1v1h-1zM146 687h1v1h-1zM150 687h1v1h-1zM616 687h1v1h-1zM626 687h1v1h-1zM669 687h1v1h-1zM678 687h1v1h-1zM66 688h2v1h-2zM86 688h1v1h-1zM104 688h1v1h-1zM129 688h1v1h-1zM133 688h1v1h-1zM147 688h1v1h-1zM149 688h1v1h-1zM617 688h1v1h-1zM626 688h1v1h-1zM670 688h1v1h-1zM677 688h1v1h-1zM86 689h1v1h-1zM103 689h1v1h-1zM129 689h1v1h-1zM133 689h1v1h-1zM147 689h2v1h-2zM617 689h1v1h-1zM626 689h1v1h-1zM670 689h1v1h-1zM677 689h1v1h-1zM87 690h1v1h-1zM103 690h1v1h-1zM129 690h1v1h-1zM133 690h1v1h-1zM147 690h1v1h-1zM617 690h1v1h-1zM625 690h1v1h-1zM670 690h1v1h-1zM677 690h1v1h-1zM87 691h1v1h-1zM103 691h1v1h-1zM129 691h1v1h-1zM132 691h1v1h-1zM617 691h1v1h-1zM625 691h1v1h-1zM671 691h1v1h-1zM677 691h1v1h-1zM87 692h1v1h-1zM103 692h1v1h-1zM130 692h1v1h-1zM132 692h1v1h-1zM617 692h1v1h-1zM625 692h1v1h-1zM671 692h1v1h-1zM677 692h1v1h-1zM87 693h1v1h-1zM103 693h1v1h-1zM130 693h1v1h-1zM132 693h1v1h-1zM617 693h1v1h-1zM624 693h1v1h-1zM672 693h1v1h-1zM677 693h1v1h-1zM88 694h1v1h-1zM103 694h1v1h-1zM130 694h1v1h-1zM132 694h1v1h-1zM617 694h1v1h-1zM624 694h1v1h-1zM672 694h1v1h-1zM676 694h1v1h-1zM88 695h1v1h-1zM103 695h1v1h-1zM130 695h1v1h-1zM132 695h1v1h-1zM617 695h1v1h-1zM624 695h1v1h-1zM672 695h1v1h-1zM676 695h1v1h-1zM88 696h1v1h-1zM103 696h1v1h-1zM130 696h1v1h-1zM132 696h1v1h-1zM618 696h1v1h-1zM623 696h1v1h-1zM673 696h1v1h-1zM676 696h1v1h-1zM88 697h1v1h-1zM102 697h1v1h-1zM130 697h2v1h-2zM618 697h1v1h-1zM623 697h1v1h-1zM673 697h1v1h-1zM676 697h1v1h-1zM88 698h1v1h-1zM102 698h1v1h-1zM131 698h1v1h-1zM618 698h1v1h-1zM622 698h1v1h-1zM673 698h1v1h-1zM676 698h1v1h-1zM89 699h1v1h-1zM102 699h1v1h-1zM131 699h1v1h-1zM618 699h1v1h-1zM622 699h1v1h-1zM674 699h1v1h-1zM676 699h1v1h-1zM89 700h1v1h-1zM102 700h1v1h-1zM131 700h1v1h-1zM618 700h1v1h-1zM622 700h1v1h-1zM674 700h2v1h-2zM89 701h1v1h-1zM102 701h1v1h-1zM618 701h1v1h-1zM621 701h1v1h-1zM675 701h1v1h-1zM89 702h1v1h-1zM102 702h1v1h-1zM618 702h1v1h-1zM621 702h1v1h-1zM675 702h1v1h-1zM89 703h1v1h-1zM102 703h1v1h-1zM618 703h1v1h-1zM621 703h1v1h-1zM90 704h1v1h-1zM101 704h1v1h-1zM619 704h2v1h-2zM90 705h1v1h-1zM101 705h1v1h-1zM619 705h2v1h-2zM90 706h1v1h-1zM101 706h1v1h-1zM619 706h2v1h-2zM90 707h1v1h-1zM101 707h1v1h-1zM619 707h1v1h-1zM91 708h1v1h-1zM101 708h1v1h-1zM619 708h1v1h-1zM91 709h1v1h-1zM101 709h1v1h-1zM91 710h1v1h-1zM101 710h1v1h-1zM92 711h1v1h-1zM100 711h1v1h-1zM92 712h1v1h-1zM100 712h1v1h-1zM93 713h1v1h-1zM100 713h1v1h-1zM94 714h1v1h-1zM100 714h1v1h-1zM95 715h1v1h-1zM100 715h1v1h-1zM95 716h1v1h-1zM100 716h1v1h-1zM96 717h1v1h-1zM100 717h1v1h-1zM97 718h1v1h-1zM99 718h1v1h-1zM98 719h2v1h-2zM98 720h2v1h-2zM99 721h1v1h-1z" fill="#000" shape-rendering="crispEdges"/>
<g shape-rendering="crispEdges" fill="#000">
<rect x="2" y="2" width="1347" height="1"/>
<rect x="2" y="2" width="1" height="487"/>
<rect x="2" y="488" width="1347" height="1"/>
<rect x="2" y="490" width="1347" height="1"/>
<rect x="2" y="490" width="1" height="243"/>
<rect x="1348" y="2" width="1" height="731"/>
<rect x="1349" y="731" width="1" height="1"/>
<rect x="2" y="732" width="1347" height="1"/>
<rect x="1349" y="56" width="2" height="1"/>
<rect x="1349" y="89" width="2" height="1"/>
<rect x="1349" y="122" width="2" height="1"/>
<rect x="1349" y="155" width="2" height="1"/>
<rect x="1349" y="188" width="2" height="1"/>
<rect x="1349" y="221" width="2" height="1"/>
<rect x="1349" y="254" width="2" height="1"/>
<rect x="1349" y="287" width="2" height="1"/>
<rect x="1349" y="320" width="2" height="1"/>
<rect x="1349" y="353" width="2" height="1"/>
<rect x="1349" y="386" width="2" height="1"/>
<rect x="1349" y="419" width="2" height="1"/>
<rect x="1349" y="452" width="2" height="1"/>
<rect x="1349" y="485" width="2" height="1"/>
<rect x="3" y="733" width="1" height="3"/>
<rect x="67" y="733" width="1" height="3"/>
<rect x="131" y="733" width="1" height="3"/>
<rect x="195" y="733" width="1" height="3"/>
<rect x="259" y="733" width="1" height="3"/>
<rect x="323" y="733" width="1" height="3"/>
<rect x="387" y="733" width="1" height="3"/>
<rect x="451" y="733" width="1" height="3"/>
<rect x="515" y="733" width="1" height="3"/>
<rect x="579" y="733" width="1" height="3"/>
<rect x="643" y="733" width="1" height="3"/>
<rect x="707" y="733" width="1" height="3"/>
<rect x="771" y="733" width="1" height="3"/>
<rect x="835" y="733" width="1" height="3"/>
<rect x="899" y="733" width="1" height="3"/>
<rect x="963" y="733" width="1" height="3"/>
<rect x="1027" y="733" width="1" height="3"/>
<rect x="1091" y="733" width="1" height="3"/>
<rect x="1155" y="733" width="1" height="3"/>
<rect x="1219" y="733" width="1" height="3"/>
<rect x="1283" y="733" width="1" height="3"/>
</g>
<polygon points="6,9 13.5,9 9.75,13" fill="#000"/>
<text x="18" y="14" font-size="10.1" fill="#000" stroke="#000" stroke-width="0.25" text-rendering="geometricPrecision" text-anchor="start" xml:space="preserve" textLength="53.5" lengthAdjust="spacingAndGlyphs">GBPUSD,H4</text>
<text x="78.3" y="14" font-size="10.1" fill="#000" stroke="#000" stroke-width="0.25" text-rendering="geometricPrecision" text-anchor="start" xml:space="preserve" textLength="140.3" lengthAdjust="spacingAndGlyphs">1.29356 1.29505 1.29321 1.29393</text>
<text x="7.5" y="502.9" font-size="10.1" fill="#000" stroke="#000" stroke-width="0.25" text-rendering="geometricPrecision" text-anchor="start" xml:space="preserve" textLength="69.5" lengthAdjust="spacingAndGlyphs">Force(13) 1.4489</text>
<text x="1354.6" y="60" font-size="10.1" fill="#000" stroke="#000" stroke-width="0.25" text-rendering="geometricPrecision" text-anchor="start" xml:space="preserve" textLength="32.4" lengthAdjust="spacingAndGlyphs">1.29925</text>
<text x="1354.6" y="93" font-size="10.1" fill="#000" stroke="#000" stroke-width="0.25" text-rendering="geometricPrecision" text-anchor="start" xml:space="preserve" textLength="32.4" lengthAdjust="spacingAndGlyphs">1.29745</text>
<text x="1354.6" y="126" font-size="10.1" fill="#000" stroke="#000" stroke-width="0.25" text-rendering="geometricPrecision" text-anchor="start" xml:space="preserve" textLength="32.4" lengthAdjust="spacingAndGlyphs">1.29565</text>
<text x="1354.6" y="159" font-size="10.1" fill="#000" stroke="#000" stroke-width="0.25" text-rendering="geometricPrecision" text-anchor="start" xml:space="preserve" textLength="32.4" lengthAdjust="spacingAndGlyphs">1.29385</text>
<text x="1354.6" y="192" font-size="10.1" fill="#000" stroke="#000" stroke-width="0.25" text-rendering="geometricPrecision" text-anchor="start" xml:space="preserve" textLength="32.4" lengthAdjust="spacingAndGlyphs">1.29205</text>
<text x="1354.6" y="225" font-size="10.1" fill="#000" stroke="#000" stroke-width="0.25" text-rendering="geometricPrecision" text-anchor="start" xml:space="preserve" textLength="32.4" lengthAdjust="spacingAndGlyphs">1.29025</text>
<text x="1354.6" y="258" font-size="10.1" fill="#000" stroke="#000" stroke-width="0.25" text-rendering="geometricPrecision" text-anchor="start" xml:space="preserve" textLength="32.4" lengthAdjust="spacingAndGlyphs">1.28845</text>
<text x="1354.6" y="291" font-size="10.1" fill="#000" stroke="#000" stroke-width="0.25" text-rendering="geometricPrecision" text-anchor="start" xml:space="preserve" textLength="32.4" lengthAdjust="spacingAndGlyphs">1.28665</text>
<text x="1354.6" y="324" font-size="10.1" fill="#000" stroke="#000" stroke-width="0.25" text-rendering="geometricPrecision" text-anchor="start" xml:space="preserve" textLength="32.4" lengthAdjust="spacingAndGlyphs">1.28485</text>
<text x="1354.6" y="357" font-size="10.1" fill="#000" stroke="#000" stroke-width="0.25" text-rendering="geometricPrecision" text-anchor="start" xml:space="preserve" textLength="32.4" lengthAdjust="spacingAndGlyphs">1.28305</text>
<text x="1354.6" y="390" font-size="10.1" fill="#000" stroke="#000" stroke-width="0.25" text-rendering="geometricPrecision" text-anchor="start" xml:space="preserve" textLength="32.4" lengthAdjust="spacingAndGlyphs">1.28125</text>
<text x="1354.6" y="423" font-size="10.1" fill="#000" stroke="#000" stroke-width="0.25" text-rendering="geometricPrecision" text-anchor="start" xml:space="preserve" textLength="32.4" lengthAdjust="spacingAndGlyphs">1.27945</text>
<text x="1354.6" y="456" font-size="10.1" fill="#000" stroke="#000" stroke-width="0.25" text-rendering="geometricPrecision" text-anchor="start" xml:space="preserve" textLength="32.4" lengthAdjust="spacingAndGlyphs">1.27765</text>
<text x="1354.6" y="489" font-size="10.1" fill="#000" stroke="#000" stroke-width="0.25" text-rendering="geometricPrecision" text-anchor="start" xml:space="preserve" textLength="32.4" lengthAdjust="spacingAndGlyphs">1.27585</text>
<text x="1353" y="501" font-size="10.1" fill="#000" stroke="#000" stroke-width="0.25" text-rendering="geometricPrecision" text-anchor="start" xml:space="preserve" textLength="32.5" lengthAdjust="spacingAndGlyphs">33.5986</text>
<text x="1352.2" y="729" font-size="10.1" fill="#000" stroke="#000" stroke-width="0.25" text-rendering="geometricPrecision" text-anchor="start" xml:space="preserve" textLength="35.8" lengthAdjust="spacingAndGlyphs">-22.8073</text>
<rect x="1350" y="20" width="41" height="11" fill="#B22222" shape-rendering="crispEdges"/>
<text x="1354.7" y="29" font-size="10.1" fill="#fff" stroke="#fff" stroke-width="0.25" text-rendering="geometricPrecision" text-anchor="start" xml:space="preserve" textLength="32.2" lengthAdjust="spacingAndGlyphs">1.30085</text>
<rect x="1350" y="81" width="41" height="11" fill="#B22222" shape-rendering="crispEdges"/>
<text x="1354.7" y="90" font-size="10.1" fill="#fff" stroke="#fff" stroke-width="0.25" text-rendering="geometricPrecision" text-anchor="start" xml:space="preserve" textLength="32.2" lengthAdjust="spacingAndGlyphs">1.29756</text>
<rect x="1350" y="148" width="41" height="11" fill="#000" shape-rendering="crispEdges"/>
<text x="1354.7" y="157" font-size="10.1" fill="#fff" stroke="#fff" stroke-width="0.25" text-rendering="geometricPrecision" text-anchor="start" xml:space="preserve" textLength="32.2" lengthAdjust="spacingAndGlyphs">1.29393</text>
<rect x="1350" y="408" width="41" height="11" fill="#000" shape-rendering="crispEdges"/>
<text x="1354.7" y="417" font-size="10.1" fill="#fff" stroke="#fff" stroke-width="0.25" text-rendering="geometricPrecision" text-anchor="start" xml:space="preserve" textLength="32.2" lengthAdjust="spacingAndGlyphs">1.27972</text>
<rect x="1350" y="469" width="41" height="11" fill="#000" shape-rendering="crispEdges"/>
<text x="1354.7" y="478" font-size="10.1" fill="#fff" stroke="#fff" stroke-width="0.25" text-rendering="geometricPrecision" text-anchor="start" xml:space="preserve" textLength="32.2" lengthAdjust="spacingAndGlyphs">1.27639</text>
<text x="1353.2" y="638" font-size="10.1" fill="#000" stroke="#000" stroke-width="0.25" text-rendering="geometricPrecision" text-anchor="start" xml:space="preserve" textLength="15.8" lengthAdjust="spacingAndGlyphs">0.00</text>
<rect x="1349" y="634" width="2" height="1" fill="#000" shape-rendering="crispEdges"/>
<rect x="1350" y="626" width="36" height="11" fill="#008000" shape-rendering="crispEdges"/>
<text x="1354.2" y="635" font-size="10.1" fill="#fff" stroke="#fff" stroke-width="0.25" text-rendering="geometricPrecision" text-anchor="start" xml:space="preserve" textLength="27.6" lengthAdjust="spacingAndGlyphs">0.5854</text>
<text x="946.2" y="216" font-size="10.1" fill="#000" stroke="#000" stroke-width="0.25" text-rendering="geometricPrecision" text-anchor="start" xml:space="preserve" textLength="17.6" lengthAdjust="spacingAndGlyphs">38.2</text>
<text x="946.2" y="264.2" font-size="10.1" fill="#000" stroke="#000" stroke-width="0.25" text-rendering="geometricPrecision" text-anchor="start" xml:space="preserve" textLength="17.6" lengthAdjust="spacingAndGlyphs">50.0</text>
<text x="946.2" y="312.2" font-size="10.1" fill="#000" stroke="#000" stroke-width="0.25" text-rendering="geometricPrecision" text-anchor="start" xml:space="preserve" textLength="17.6" lengthAdjust="spacingAndGlyphs">61.8</text>
<text x="2.2" y="745" font-size="10.1" fill="#000" stroke="#000" stroke-width="0.25" text-rendering="geometricPrecision" text-anchor="start" xml:space="preserve" textLength="50.5" lengthAdjust="spacingAndGlyphs">21 Oct 2019</text>
<text x="66.2" y="745" font-size="10.1" fill="#000" stroke="#000" stroke-width="0.25" text-rendering="geometricPrecision" text-anchor="start" xml:space="preserve" textLength="53.1" lengthAdjust="spacingAndGlyphs">23 Oct 00:00</text>
<text x="130.2" y="745" font-size="10.1" fill="#000" stroke="#000" stroke-width="0.25" text-rendering="geometricPrecision" text-anchor="start" xml:space="preserve" textLength="53.1" lengthAdjust="spacingAndGlyphs">24 Oct 08:00</text>
<text x="194.2" y="745" font-size="10.1" fill="#000" stroke="#000" stroke-width="0.25" text-rendering="geometricPrecision" text-anchor="start" xml:space="preserve" textLength="53.1" lengthAdjust="spacingAndGlyphs">25 Oct 16:00</text>
<text x="258.2" y="745" font-size="10.1" fill="#000" stroke="#000" stroke-width="0.25" text-rendering="geometricPrecision" text-anchor="start" xml:space="preserve" textLength="53.1" lengthAdjust="spacingAndGlyphs">29 Oct 00:00</text>
<text x="322.2" y="745" font-size="10.1" fill="#000" stroke="#000" stroke-width="0.25" text-rendering="geometricPrecision" text-anchor="start" xml:space="preserve" textLength="53.1" lengthAdjust="spacingAndGlyphs">30 Oct 08:00</text>
<text x="386.2" y="745" font-size="10.1" fill="#000" stroke="#000" stroke-width="0.25" text-rendering="geometricPrecision" text-anchor="start" xml:space="preserve" textLength="53.1" lengthAdjust="spacingAndGlyphs">31 Oct 16:00</text>
<text x="450.2" y="745" font-size="10.1" fill="#000" stroke="#000" stroke-width="0.25" text-rendering="geometricPrecision" text-anchor="start" xml:space="preserve" textLength="51.4" lengthAdjust="spacingAndGlyphs">4 Nov 00:00</text>
<text x="514.2" y="745" font-size="10.1" fill="#000" stroke="#000" stroke-width="0.25" text-rendering="geometricPrecision" text-anchor="start" xml:space="preserve" textLength="51.4" lengthAdjust="spacingAndGlyphs">5 Nov 08:00</text>
<text x="578.2" y="745" font-size="10.1" fill="#000" stroke="#000" stroke-width="0.25" text-rendering="geometricPrecision" text-anchor="start" xml:space="preserve" textLength="51.4" lengthAdjust="spacingAndGlyphs">6 Nov 16:00</text>
<text x="642.2" y="745" font-size="10.1" fill="#000" stroke="#000" stroke-width="0.25" text-rendering="geometricPrecision" text-anchor="start" xml:space="preserve" textLength="51.4" lengthAdjust="spacingAndGlyphs">8 Nov 00:00</text>
<text x="706.2" y="745" font-size="10.1" fill="#000" stroke="#000" stroke-width="0.25" text-rendering="geometricPrecision" text-anchor="start" xml:space="preserve" textLength="55.9" lengthAdjust="spacingAndGlyphs">11 Nov 08:00</text>
<text x="770.2" y="745" font-size="10.1" fill="#000" stroke="#000" stroke-width="0.25" text-rendering="geometricPrecision" text-anchor="start" xml:space="preserve" textLength="56.7" lengthAdjust="spacingAndGlyphs">12 Nov 16:00</text>
<text x="834.2" y="745" font-size="10.1" fill="#000" stroke="#000" stroke-width="0.25" text-rendering="geometricPrecision" text-anchor="start" xml:space="preserve" textLength="56.7" lengthAdjust="spacingAndGlyphs">14 Nov 00:00</text>
<text x="898.2" y="745" font-size="10.1" fill="#000" stroke="#000" stroke-width="0.25" text-rendering="geometricPrecision" text-anchor="start" xml:space="preserve" textLength="56.7" lengthAdjust="spacingAndGlyphs">15 Nov 08:00</text>
<text x="962.2" y="745" font-size="10.1" fill="#000" stroke="#000" stroke-width="0.25" text-rendering="geometricPrecision" text-anchor="start" xml:space="preserve" textLength="56.7" lengthAdjust="spacingAndGlyphs">18 Nov 16:00</text>
<text x="1026.2" y="745" font-size="10.1" fill="#000" stroke="#000" stroke-width="0.25" text-rendering="geometricPrecision" text-anchor="start" xml:space="preserve" textLength="56.7" lengthAdjust="spacingAndGlyphs">20 Nov 00:00</text>
<text x="1090.2" y="745" font-size="10.1" fill="#000" stroke="#000" stroke-width="0.25" text-rendering="geometricPrecision" text-anchor="start" xml:space="preserve" textLength="56.7" lengthAdjust="spacingAndGlyphs">21 Nov 08:00</text>
<text x="1154.2" y="745" font-size="10.1" fill="#000" stroke="#000" stroke-width="0.25" text-rendering="geometricPrecision" text-anchor="start" xml:space="preserve" textLength="56.7" lengthAdjust="spacingAndGlyphs">22 Nov 16:00</text>
<text x="1218.2" y="745" font-size="10.1" fill="#000" stroke="#000" stroke-width="0.25" text-rendering="geometricPrecision" text-anchor="start" xml:space="preserve" textLength="56.7" lengthAdjust="spacingAndGlyphs">26 Nov 00:00</text>
<text x="1282.2" y="745" font-size="10.1" fill="#000" stroke="#000" stroke-width="0.25" text-rendering="geometricPrecision" text-anchor="start" xml:space="preserve" textLength="56.7" lengthAdjust="spacingAndGlyphs">27 Nov 08:00</text>
</svg></body></html>
